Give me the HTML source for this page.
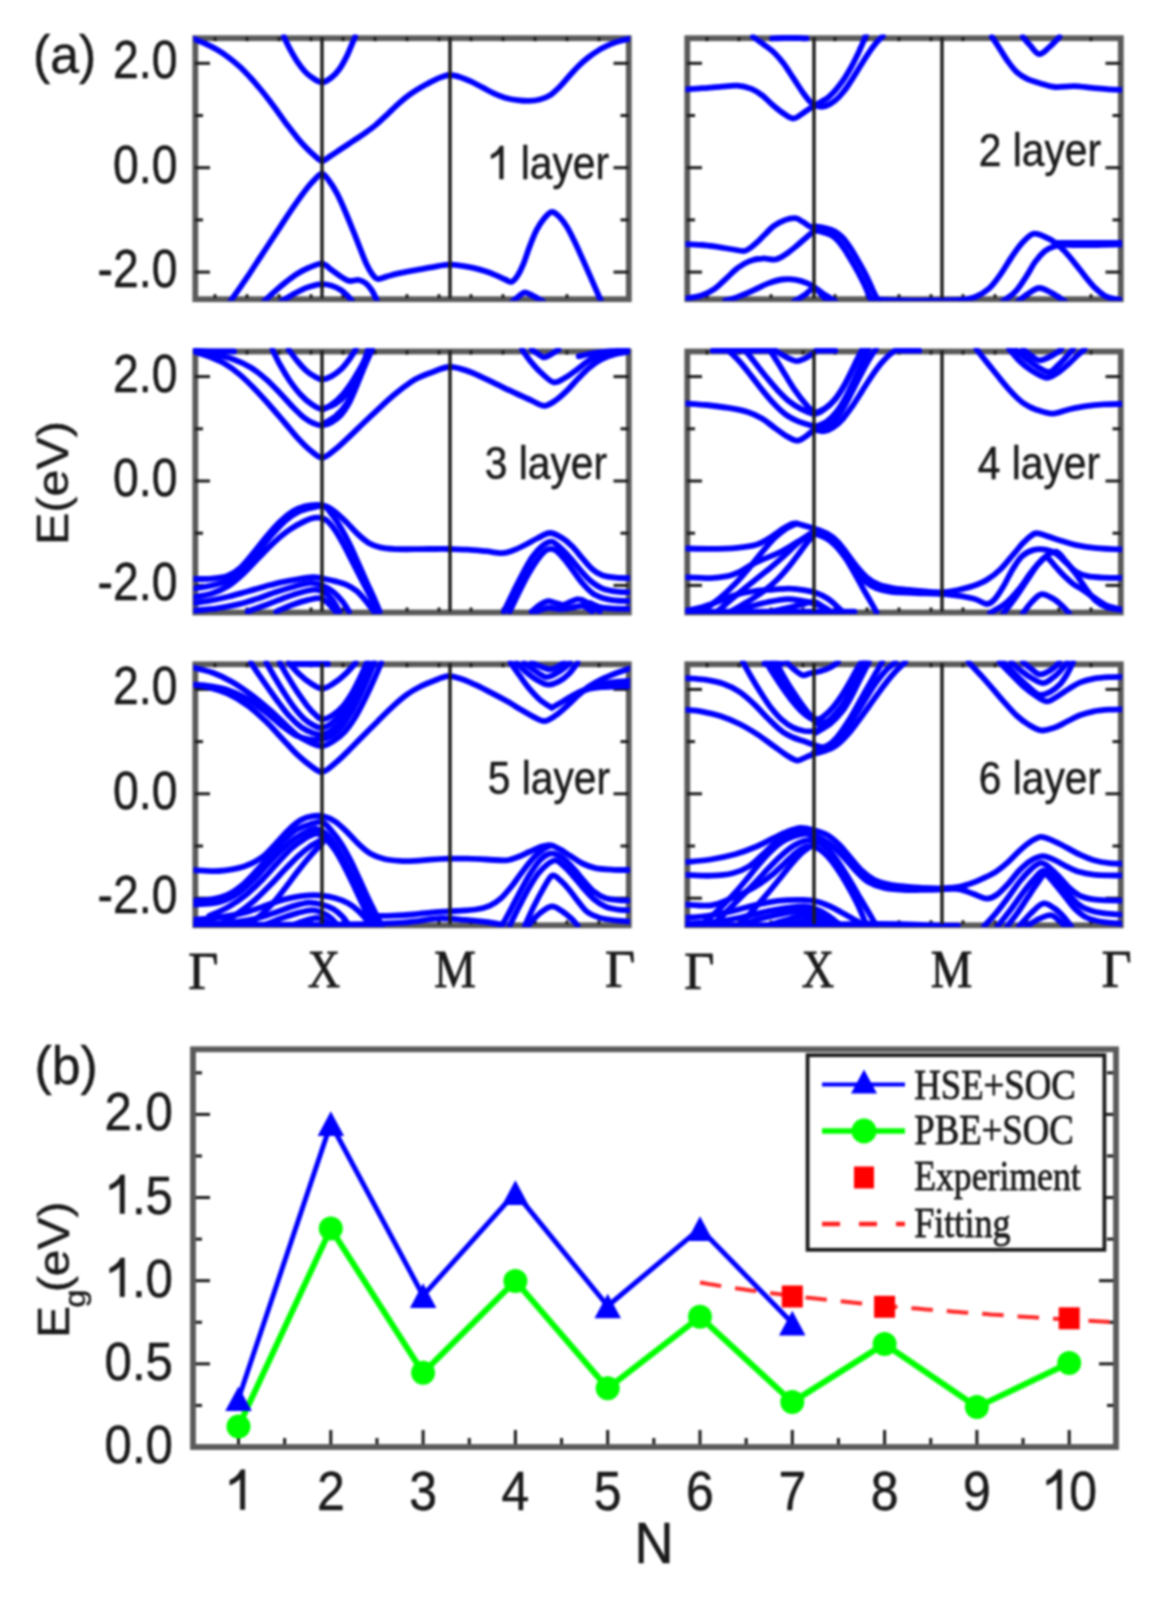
<!DOCTYPE html>
<html><head><meta charset="utf-8"><style>
html,body{margin:0;padding:0;background:#fff;}
svg{display:block;}
</style></head><body>
<svg width="1174" height="1599" viewBox="0 0 1174 1599">
<defs>
<clipPath id="cp00"><rect x="193.5" y="34.6" width="436.5" height="266.2"/></clipPath>
<clipPath id="cp01"><rect x="685.5" y="34.6" width="436.5" height="266.2"/></clipPath>
<clipPath id="cp10"><rect x="193.5" y="347.9" width="436.5" height="266.2"/></clipPath>
<clipPath id="cp11"><rect x="685.5" y="347.9" width="436.5" height="266.2"/></clipPath>
<clipPath id="cp20"><rect x="193.5" y="660.6999999999999" width="436.5" height="266.2"/></clipPath>
<clipPath id="cp21"><rect x="685.5" y="660.6999999999999" width="436.5" height="266.2"/></clipPath>
<filter id="bl" color-interpolation-filters="sRGB" x="-5%" y="-5%" width="110%" height="110%"><feGaussianBlur stdDeviation="1.2"/></filter>
</defs>
<g filter="url(#bl)">
<rect width="1174" height="1599" fill="#fff"/>
<rect x="195.3" y="38.2" width="433.5" height="261.0" fill="none" stroke="#5a5a5a" stroke-width="5.8"/>
<line x1="195.0" y1="63.29999999999998" x2="210.0" y2="63.29999999999998" stroke="#1a1a1a" stroke-width="3"/>
<line x1="628.5" y1="63.29999999999998" x2="613.5" y2="63.29999999999998" stroke="#1a1a1a" stroke-width="3"/>
<line x1="195.0" y1="115.49999999999999" x2="203.0" y2="115.49999999999999" stroke="#1a1a1a" stroke-width="3"/>
<line x1="628.5" y1="115.49999999999999" x2="620.5" y2="115.49999999999999" stroke="#1a1a1a" stroke-width="3"/>
<line x1="195.0" y1="167.7" x2="210.0" y2="167.7" stroke="#1a1a1a" stroke-width="3"/>
<line x1="628.5" y1="167.7" x2="613.5" y2="167.7" stroke="#1a1a1a" stroke-width="3"/>
<line x1="195.0" y1="219.89999999999998" x2="203.0" y2="219.89999999999998" stroke="#1a1a1a" stroke-width="3"/>
<line x1="628.5" y1="219.89999999999998" x2="620.5" y2="219.89999999999998" stroke="#1a1a1a" stroke-width="3"/>
<line x1="195.0" y1="272.1" x2="210.0" y2="272.1" stroke="#1a1a1a" stroke-width="3"/>
<line x1="628.5" y1="272.1" x2="613.5" y2="272.1" stroke="#1a1a1a" stroke-width="3"/>
<line x1="215.0" y1="37.2" x2="215.0" y2="41.2" stroke="#1a1a1a" stroke-width="3"/>
<line x1="215.0" y1="298.2" x2="215.0" y2="294.2" stroke="#1a1a1a" stroke-width="3"/>
<line x1="247.0" y1="37.2" x2="247.0" y2="41.2" stroke="#1a1a1a" stroke-width="3"/>
<line x1="247.0" y1="298.2" x2="247.0" y2="294.2" stroke="#1a1a1a" stroke-width="3"/>
<line x1="279.0" y1="37.2" x2="279.0" y2="41.2" stroke="#1a1a1a" stroke-width="3"/>
<line x1="279.0" y1="298.2" x2="279.0" y2="294.2" stroke="#1a1a1a" stroke-width="3"/>
<line x1="311.0" y1="37.2" x2="311.0" y2="41.2" stroke="#1a1a1a" stroke-width="3"/>
<line x1="311.0" y1="298.2" x2="311.0" y2="294.2" stroke="#1a1a1a" stroke-width="3"/>
<line x1="343.0" y1="37.2" x2="343.0" y2="41.2" stroke="#1a1a1a" stroke-width="3"/>
<line x1="343.0" y1="298.2" x2="343.0" y2="294.2" stroke="#1a1a1a" stroke-width="3"/>
<line x1="375.0" y1="37.2" x2="375.0" y2="41.2" stroke="#1a1a1a" stroke-width="3"/>
<line x1="375.0" y1="298.2" x2="375.0" y2="294.2" stroke="#1a1a1a" stroke-width="3"/>
<line x1="407.0" y1="37.2" x2="407.0" y2="41.2" stroke="#1a1a1a" stroke-width="3"/>
<line x1="407.0" y1="298.2" x2="407.0" y2="294.2" stroke="#1a1a1a" stroke-width="3"/>
<line x1="439.0" y1="37.2" x2="439.0" y2="41.2" stroke="#1a1a1a" stroke-width="3"/>
<line x1="439.0" y1="298.2" x2="439.0" y2="294.2" stroke="#1a1a1a" stroke-width="3"/>
<line x1="471.0" y1="37.2" x2="471.0" y2="41.2" stroke="#1a1a1a" stroke-width="3"/>
<line x1="471.0" y1="298.2" x2="471.0" y2="294.2" stroke="#1a1a1a" stroke-width="3"/>
<line x1="503.0" y1="37.2" x2="503.0" y2="41.2" stroke="#1a1a1a" stroke-width="3"/>
<line x1="503.0" y1="298.2" x2="503.0" y2="294.2" stroke="#1a1a1a" stroke-width="3"/>
<line x1="535.0" y1="37.2" x2="535.0" y2="41.2" stroke="#1a1a1a" stroke-width="3"/>
<line x1="535.0" y1="298.2" x2="535.0" y2="294.2" stroke="#1a1a1a" stroke-width="3"/>
<line x1="567.0" y1="37.2" x2="567.0" y2="41.2" stroke="#1a1a1a" stroke-width="3"/>
<line x1="567.0" y1="298.2" x2="567.0" y2="294.2" stroke="#1a1a1a" stroke-width="3"/>
<line x1="599.0" y1="37.2" x2="599.0" y2="41.2" stroke="#1a1a1a" stroke-width="3"/>
<line x1="599.0" y1="298.2" x2="599.0" y2="294.2" stroke="#1a1a1a" stroke-width="3"/>
<g clip-path="url(#cp00)" fill="none" stroke="#0000ff" stroke-width="5.8" stroke-linecap="round" stroke-linejoin="round">
<path d="M193.4,38.6 C195.4,39.5 201.3,41.8 205.2,43.7 C209.1,45.5 213.0,47.4 216.8,49.6 C220.7,51.9 224.6,54.5 228.3,57.3 C232.1,60.1 235.8,63.2 239.4,66.4 C242.9,69.6 246.1,73.0 249.4,76.5 C252.7,80.0 255.8,83.7 259.0,87.5 C262.2,91.3 265.4,95.3 268.6,99.5 C271.8,103.6 275.0,108.1 278.2,112.4 C281.4,116.8 284.5,121.4 287.7,125.6 C290.9,129.8 294.2,134.1 297.3,137.8 C300.4,141.6 303.6,145.1 306.4,148.1 C309.3,151.1 311.9,153.5 314.6,155.7 C317.2,157.8 319.5,160.9 322.2,160.9 C325.0,160.9 327.7,157.7 330.9,155.7 C334.1,153.7 337.7,151.2 341.4,148.8 C345.1,146.4 349.1,143.7 352.9,141.2 C356.7,138.6 360.6,136.2 364.4,133.5 C368.2,130.8 372.1,128.1 375.9,124.9 C379.7,121.7 383.6,117.9 387.4,114.3 C391.2,110.7 395.1,106.7 398.9,103.3 C402.7,100.0 406.5,96.9 410.3,94.2 C414.1,91.5 417.8,89.3 421.6,87.1 C425.4,84.9 429.4,82.6 433.0,80.9 C436.6,79.1 440.2,77.6 443.1,76.6 C445.9,75.6 447.4,74.9 450.2,75.0 C453.1,75.1 456.8,76.1 460.3,77.2 C463.8,78.3 467.6,80.0 471.3,81.7 C475.1,83.5 479.0,85.8 482.8,87.7 C486.7,89.7 490.5,91.9 494.3,93.6 C498.2,95.3 502.0,96.9 505.8,98.0 C509.7,99.1 513.5,99.7 517.3,100.1 C521.2,100.6 525.1,101.0 528.8,100.9 C532.6,100.8 536.3,100.4 539.8,99.5 C543.4,98.6 546.6,97.5 549.9,95.4 C553.2,93.3 556.3,90.2 559.5,87.0 C562.7,83.8 565.9,79.7 569.1,76.2 C572.3,72.7 575.4,69.1 578.7,65.9 C581.9,62.7 585.2,59.8 588.7,57.1 C592.2,54.4 596.1,51.8 599.7,49.6 C603.4,47.5 607.2,45.6 610.8,44.1 C614.3,42.7 617.5,41.7 620.8,40.8 C624.1,39.9 628.8,39.0 630.4,38.6"/>
<path d="M283.9,36.7 C284.9,38.8 287.9,45.3 290.1,49.4 C292.4,53.6 294.8,57.9 297.3,61.6 C299.8,65.3 302.4,68.8 305.0,71.6 C307.6,74.4 310.3,76.6 313.1,78.3 C316.0,80.1 319.2,82.4 322.2,82.3 C325.3,82.2 328.5,79.8 331.3,77.6 C334.2,75.4 336.9,72.6 339.5,69.0 C342.0,65.5 344.6,60.5 346.7,56.4 C348.8,52.2 350.6,47.4 352.0,44.1 C353.5,40.9 354.7,37.9 355.2,36.7"/>
<path d="M230.2,301.5 C231.8,299.2 236.6,292.4 239.8,287.8 C243.0,283.1 246.2,278.5 249.4,273.8 C252.6,269.0 255.8,264.0 259.0,259.1 C262.2,254.3 265.4,249.4 268.6,244.5 C271.8,239.7 275.0,234.8 278.2,229.9 C281.4,225.1 284.5,220.1 287.7,215.3 C290.9,210.6 294.2,205.8 297.3,201.4 C300.4,197.0 303.6,192.6 306.4,189.0 C309.3,185.3 311.9,182.2 314.6,179.6 C317.2,177.1 319.7,173.2 322.2,173.6 C324.8,174.0 327.4,178.5 329.9,182.0 C332.5,185.5 335.0,189.8 337.6,194.7 C340.1,199.6 342.7,205.6 345.2,211.5 C347.8,217.4 350.4,224.0 352.9,230.2 C355.4,236.3 357.9,242.8 360.1,248.4 C362.3,254.0 364.3,259.4 366.3,263.7 C368.3,268.0 370.2,271.4 372.1,274.0 C374.0,276.6 375.4,278.6 377.8,279.0 C380.2,279.5 383.2,277.5 386.4,276.6 C389.7,275.7 393.6,274.5 397.5,273.6 C401.4,272.7 405.8,271.8 409.8,271.1 C413.8,270.3 417.6,269.8 421.6,269.1 C425.6,268.4 429.5,267.6 434.0,266.8 C438.4,266.1 443.9,264.9 448.3,264.7 C452.7,264.5 456.2,265.0 460.3,265.6 C464.5,266.1 468.9,266.9 473.2,267.9 C477.6,268.9 482.2,270.3 486.2,271.6 C490.2,272.9 494.0,274.6 497.2,275.9 C500.4,277.2 503.0,278.5 505.3,279.5 C507.7,280.5 509.6,282.5 511.6,281.9 C513.6,281.3 515.4,279.0 517.3,276.2 C519.2,273.3 521.1,269.5 523.1,264.7 C525.1,259.9 527.1,253.2 529.3,247.4 C531.5,241.7 534.0,235.0 536.5,230.2 C539.0,225.3 541.6,221.5 544.2,218.4 C546.7,215.4 549.3,212.2 551.8,212.0 C554.4,211.7 556.9,214.4 559.5,217.0 C562.0,219.5 564.6,223.1 567.2,227.3 C569.7,231.5 572.3,236.9 574.8,242.1 C577.4,247.4 580.0,253.4 582.5,258.9 C585.0,264.4 587.5,270.2 589.7,275.2 C591.9,280.2 593.9,284.8 595.8,289.2 C597.7,293.6 600.4,299.4 601.3,301.5"/>
<path d="M263.8,301.5 C265.6,299.8 270.9,294.8 274.6,291.6 C278.2,288.4 282.0,285.1 285.8,282.1 C289.6,279.2 293.4,276.2 297.3,273.8 C301.2,271.3 305.2,269.2 309.3,267.5 C313.5,265.9 318.5,263.3 322.2,263.7 C326.0,264.1 328.7,268.0 331.8,270.2 C334.9,272.3 338.1,274.8 340.9,276.6 C343.8,278.4 346.1,280.4 349.1,280.9 C352.0,281.5 355.9,279.6 358.7,280.0 C361.4,280.4 363.6,281.6 365.8,283.3 C368.1,285.1 370.0,287.6 372.0,290.6 C373.9,293.6 376.5,299.7 377.4,301.5"/>
<path d="M281.0,301.5 C282.8,300.5 288.0,297.3 291.3,295.4 C294.7,293.5 297.8,291.6 301.2,290.1 C304.5,288.5 307.7,287.3 311.2,286.3 C314.7,285.3 318.8,284.3 322.2,284.2 C325.7,284.1 328.8,284.9 331.8,285.8 C334.9,286.8 337.9,288.2 340.4,289.8 C343.0,291.4 345.0,293.5 347.1,295.4 C349.1,297.4 351.6,300.5 352.5,301.5"/>
<path d="M512.5,301.5 C513.6,300.6 516.9,297.6 519.0,296.1 C521.1,294.6 522.6,292.4 525.0,292.4 C527.4,292.4 530.3,294.6 533.4,296.1 C536.4,297.6 541.6,300.6 543.2,301.5"/>
</g>
<line x1="322.0" y1="37.2" x2="322.0" y2="298.2" stroke="#1a1a1a" stroke-width="3.4"/>
<line x1="450.0" y1="37.2" x2="450.0" y2="298.2" stroke="#1a1a1a" stroke-width="3.4"/>
<rect x="687.3" y="38.2" width="433.5" height="261.0" fill="none" stroke="#5a5a5a" stroke-width="5.8"/>
<line x1="687.0" y1="63.29999999999998" x2="702.0" y2="63.29999999999998" stroke="#1a1a1a" stroke-width="3"/>
<line x1="1120.5" y1="63.29999999999998" x2="1105.5" y2="63.29999999999998" stroke="#1a1a1a" stroke-width="3"/>
<line x1="687.0" y1="115.49999999999999" x2="695.0" y2="115.49999999999999" stroke="#1a1a1a" stroke-width="3"/>
<line x1="1120.5" y1="115.49999999999999" x2="1112.5" y2="115.49999999999999" stroke="#1a1a1a" stroke-width="3"/>
<line x1="687.0" y1="167.7" x2="702.0" y2="167.7" stroke="#1a1a1a" stroke-width="3"/>
<line x1="1120.5" y1="167.7" x2="1105.5" y2="167.7" stroke="#1a1a1a" stroke-width="3"/>
<line x1="687.0" y1="219.89999999999998" x2="695.0" y2="219.89999999999998" stroke="#1a1a1a" stroke-width="3"/>
<line x1="1120.5" y1="219.89999999999998" x2="1112.5" y2="219.89999999999998" stroke="#1a1a1a" stroke-width="3"/>
<line x1="687.0" y1="272.1" x2="702.0" y2="272.1" stroke="#1a1a1a" stroke-width="3"/>
<line x1="1120.5" y1="272.1" x2="1105.5" y2="272.1" stroke="#1a1a1a" stroke-width="3"/>
<line x1="707.0" y1="37.2" x2="707.0" y2="41.2" stroke="#1a1a1a" stroke-width="3"/>
<line x1="707.0" y1="298.2" x2="707.0" y2="294.2" stroke="#1a1a1a" stroke-width="3"/>
<line x1="739.0" y1="37.2" x2="739.0" y2="41.2" stroke="#1a1a1a" stroke-width="3"/>
<line x1="739.0" y1="298.2" x2="739.0" y2="294.2" stroke="#1a1a1a" stroke-width="3"/>
<line x1="771.0" y1="37.2" x2="771.0" y2="41.2" stroke="#1a1a1a" stroke-width="3"/>
<line x1="771.0" y1="298.2" x2="771.0" y2="294.2" stroke="#1a1a1a" stroke-width="3"/>
<line x1="803.0" y1="37.2" x2="803.0" y2="41.2" stroke="#1a1a1a" stroke-width="3"/>
<line x1="803.0" y1="298.2" x2="803.0" y2="294.2" stroke="#1a1a1a" stroke-width="3"/>
<line x1="835.0" y1="37.2" x2="835.0" y2="41.2" stroke="#1a1a1a" stroke-width="3"/>
<line x1="835.0" y1="298.2" x2="835.0" y2="294.2" stroke="#1a1a1a" stroke-width="3"/>
<line x1="867.0" y1="37.2" x2="867.0" y2="41.2" stroke="#1a1a1a" stroke-width="3"/>
<line x1="867.0" y1="298.2" x2="867.0" y2="294.2" stroke="#1a1a1a" stroke-width="3"/>
<line x1="899.0" y1="37.2" x2="899.0" y2="41.2" stroke="#1a1a1a" stroke-width="3"/>
<line x1="899.0" y1="298.2" x2="899.0" y2="294.2" stroke="#1a1a1a" stroke-width="3"/>
<line x1="931.0" y1="37.2" x2="931.0" y2="41.2" stroke="#1a1a1a" stroke-width="3"/>
<line x1="931.0" y1="298.2" x2="931.0" y2="294.2" stroke="#1a1a1a" stroke-width="3"/>
<line x1="963.0" y1="37.2" x2="963.0" y2="41.2" stroke="#1a1a1a" stroke-width="3"/>
<line x1="963.0" y1="298.2" x2="963.0" y2="294.2" stroke="#1a1a1a" stroke-width="3"/>
<line x1="995.0" y1="37.2" x2="995.0" y2="41.2" stroke="#1a1a1a" stroke-width="3"/>
<line x1="995.0" y1="298.2" x2="995.0" y2="294.2" stroke="#1a1a1a" stroke-width="3"/>
<line x1="1027.0" y1="37.2" x2="1027.0" y2="41.2" stroke="#1a1a1a" stroke-width="3"/>
<line x1="1027.0" y1="298.2" x2="1027.0" y2="294.2" stroke="#1a1a1a" stroke-width="3"/>
<line x1="1059.0" y1="37.2" x2="1059.0" y2="41.2" stroke="#1a1a1a" stroke-width="3"/>
<line x1="1059.0" y1="298.2" x2="1059.0" y2="294.2" stroke="#1a1a1a" stroke-width="3"/>
<line x1="1091.0" y1="37.2" x2="1091.0" y2="41.2" stroke="#1a1a1a" stroke-width="3"/>
<line x1="1091.0" y1="298.2" x2="1091.0" y2="294.2" stroke="#1a1a1a" stroke-width="3"/>
<g clip-path="url(#cp01)" fill="none" stroke="#0000ff" stroke-width="5.8" stroke-linecap="round" stroke-linejoin="round">
<path d="M685.8,89.4 C688.5,89.2 696.5,88.7 702.1,88.2 C707.8,87.8 713.9,87.2 719.9,86.8 C725.8,86.3 732.3,85.2 737.6,85.6 C742.8,85.9 747.3,87.3 751.5,88.9 C755.6,90.6 759.1,93.0 762.5,95.6 C765.9,98.2 768.8,101.7 772.1,104.5 C775.4,107.3 778.6,110.2 782.1,112.5 C785.7,114.8 789.6,118.5 793.2,118.5 C796.7,118.6 799.9,115.1 803.3,113.0 C806.6,111.0 810.2,108.2 813.2,106.3 C816.3,104.5 818.9,103.2 821.3,101.8 C823.7,100.3 825.8,99.4 827.9,97.7 C830.0,96.0 832.1,93.9 834.1,91.8 C836.1,89.6 838.0,87.1 839.8,84.7 C841.7,82.3 843.4,79.9 845.1,77.3 C846.8,74.7 848.5,72.0 850.0,69.2 C851.6,66.4 853.1,63.5 854.5,60.7 C855.9,57.9 857.3,55.1 858.6,52.4 C859.9,49.6 861.0,46.9 862.3,44.1 C863.5,41.2 865.4,36.6 866.0,35.1"/>
<path d="M752.9,36.7 C754.7,38.0 760.4,42.0 763.9,44.6 C767.4,47.2 770.7,49.4 774.0,52.5 C777.3,55.7 780.4,59.3 783.6,63.5 C786.8,67.8 790.0,73.1 793.2,77.9 C796.4,82.7 799.9,88.2 802.7,92.3 C805.6,96.3 808.2,99.9 810.5,102.1 C812.7,104.4 814.0,105.0 816.1,105.8 C818.2,106.5 820.7,106.9 823.0,106.7 C825.3,106.4 827.6,105.3 829.8,104.1 C832.0,102.9 834.3,101.3 836.4,99.4 C838.5,97.6 840.5,95.3 842.4,93.0 C844.3,90.8 846.0,88.5 847.7,86.0 C849.4,83.6 851.1,81.0 852.8,78.3 C854.5,75.7 856.2,72.8 857.9,70.0 C859.6,67.3 861.3,64.4 863.0,61.7 C864.7,59.0 866.4,56.4 868.1,53.9 C869.8,51.3 871.6,48.8 873.3,46.6 C874.9,44.4 876.6,42.4 878.3,40.6 C879.9,38.9 882.3,36.7 883.0,36.0"/>
<path d="M772.1,38.4 C773.9,38.4 779.2,38.1 783.1,38.0 C787.0,37.9 791.6,37.9 795.6,38.0 C799.5,38.1 804.7,38.4 806.6,38.4"/>
<path d="M991.8,36.8 C993.3,38.9 997.6,45.4 1000.3,49.6 C1003.0,53.8 1005.6,58.2 1008.3,61.9 C1011.0,65.6 1013.4,69.0 1016.5,71.8 C1019.6,74.6 1022.8,76.7 1026.6,78.6 C1030.5,80.5 1035.0,81.8 1039.7,83.2 C1044.4,84.6 1049.0,86.6 1054.7,87.0 C1060.4,87.5 1067.7,85.9 1074.0,86.1 C1080.3,86.2 1086.6,87.4 1092.4,87.9 C1098.2,88.4 1103.5,88.9 1108.8,89.3 C1114.1,89.6 1121.7,89.8 1124.3,89.9"/>
<path d="M1022.8,36.8 C1024.0,38.2 1027.5,42.6 1030.3,45.5 C1033.0,48.4 1036.1,53.8 1039.2,54.2 C1042.4,54.5 1045.7,50.3 1049.1,47.4 C1052.5,44.5 1057.8,38.5 1059.5,36.8"/>
<path d="M684.9,244.1 C687.7,244.2 696.2,244.5 701.9,245.0 C707.6,245.5 713.7,246.4 718.9,247.1 C724.1,247.9 728.9,248.9 733.3,249.5 C737.7,250.1 741.7,251.7 745.2,250.8 C748.8,249.9 751.6,247.0 754.8,244.3 C758.0,241.7 761.2,238.1 764.4,235.0 C767.6,231.9 770.7,228.3 774.0,225.9 C777.3,223.4 780.5,221.6 784.1,220.4 C787.6,219.1 792.0,218.0 795.1,218.2 C798.2,218.4 800.2,220.4 802.7,221.8 C805.3,223.2 808.4,226.0 810.4,226.8 C812.5,227.6 812.6,226.3 815.0,226.5 C817.4,226.7 821.9,227.2 825.1,228.0 C828.3,228.8 831.4,229.7 834.2,231.1 C837.0,232.6 839.6,234.6 842.0,236.8 C844.3,239.1 846.2,241.9 848.2,244.7 C850.2,247.4 851.9,250.4 853.7,253.3 C855.5,256.3 857.3,259.4 859.0,262.4 C860.7,265.4 862.4,268.4 864.0,271.4 C865.6,274.4 867.1,277.4 868.5,280.4 C870.0,283.5 871.3,286.8 872.6,289.6 C873.9,292.4 875.1,295.1 876.3,297.2 C877.5,299.3 879.4,301.2 880.0,302.0"/>
<path d="M684.9,298.7 C687.6,298.2 696.5,297.2 701.4,295.6 C706.4,293.9 710.5,291.7 714.6,288.9 C718.7,286.0 722.2,282.1 726.1,278.6 C729.9,275.1 733.7,271.0 737.6,268.0 C741.5,265.1 745.4,262.7 749.6,261.1 C753.7,259.5 758.1,258.7 762.5,258.5 C766.9,258.2 772.0,260.1 775.9,259.4 C779.8,258.7 782.5,256.4 786.0,254.1 C789.4,251.9 793.1,248.8 796.5,246.0 C799.9,243.2 803.2,240.0 806.3,237.5 C809.4,235.0 811.9,231.8 815.0,231.0 C818.1,230.2 821.7,232.0 824.6,232.8 C827.5,233.5 830.0,234.4 832.3,235.7 C834.5,237.1 836.3,238.9 838.2,240.9 C840.1,242.9 841.8,245.4 843.6,248.0 C845.3,250.6 847.1,253.5 848.9,256.4 C850.7,259.2 852.5,262.4 854.2,265.4 C855.9,268.4 857.6,271.4 859.2,274.4 C860.8,277.4 862.3,280.4 863.8,283.4 C865.2,286.5 866.6,289.6 867.8,292.6 C869.1,295.6 870.8,300.0 871.4,301.5"/>
<path d="M725.1,300.6 C727.6,299.9 734.9,297.9 739.7,296.1 C744.6,294.3 749.6,292.0 754.3,289.8 C759.1,287.7 763.6,285.1 768.2,283.4 C772.9,281.7 777.5,280.1 782.1,279.5 C786.8,278.9 791.8,279.1 796.0,279.8 C800.3,280.4 804.1,281.9 807.5,283.4 C811.0,284.9 813.6,286.9 816.6,288.9 C819.7,290.9 822.6,293.2 825.7,295.3 C828.9,297.3 833.7,300.2 835.3,301.2"/>
<path d="M794.1,301.2 C795.8,300.2 801.1,297.4 804.4,295.2 C807.8,292.9 811.5,287.9 814.2,287.8 C817.0,287.6 818.7,292.0 820.9,294.2 C823.2,296.4 826.5,300.0 827.7,301.2"/>
<path d="M959.9,300.5 C962.6,299.9 971.1,298.7 975.9,296.7 C980.7,294.7 984.8,292.4 988.9,288.7 C993.1,285.0 996.8,279.7 1000.5,274.4 C1004.3,269.2 1008.0,262.3 1011.7,257.0 C1015.3,251.8 1018.7,246.6 1022.3,242.8 C1025.9,238.9 1029.7,234.8 1033.4,233.8 C1037.1,232.8 1041.0,235.3 1044.5,236.7 C1048.1,238.1 1051.4,239.9 1054.7,242.3 C1058.0,244.7 1061.0,247.6 1064.4,251.0 C1067.7,254.4 1071.0,258.6 1074.5,262.8 C1078.0,267.1 1081.7,272.1 1085.1,276.4 C1088.6,280.6 1092.0,285.0 1095.3,288.2 C1098.6,291.5 1101.6,294.1 1105.0,296.0 C1108.3,297.8 1111.7,298.5 1115.6,299.2 C1119.5,299.9 1126.1,300.0 1128.2,300.2"/>
<path d="M1002.5,301.5 C1004.6,299.9 1011.2,296.1 1015.0,292.1 C1018.9,288.1 1022.3,282.4 1025.7,277.3 C1029.1,272.3 1032.1,266.0 1035.3,261.6 C1038.6,257.2 1041.8,253.6 1045.0,251.0 C1048.2,248.4 1051.5,247.3 1054.7,246.3 C1057.9,245.2 1059.5,245.0 1064.4,244.9 C1069.2,244.7 1077.0,245.3 1083.7,245.2 C1090.4,245.2 1097.1,245.0 1104.5,244.8 C1111.9,244.6 1124.2,244.2 1128.2,244.1"/>
<path d="M1054.7,242.9 C1058.3,242.9 1068.5,242.9 1076.4,242.9 C1084.3,242.9 1093.4,242.9 1102.1,242.9 C1110.7,242.9 1123.8,242.9 1128.2,242.9"/>
<path d="M1017.9,301.5 C1019.6,300.2 1024.6,296.0 1028.1,293.8 C1031.6,291.5 1035.3,288.1 1039.2,288.0 C1043.1,287.8 1047.2,290.6 1051.5,292.8 C1055.9,295.1 1063.0,300.1 1065.3,301.5"/>
<path d="M872.0,299.5 C875.5,299.6 885.0,300.1 893.0,300.3 C901.0,300.5 911.1,300.8 920.0,300.8 C928.9,300.8 938.8,300.6 946.2,300.4 C953.8,300.3 961.9,300.1 965.0,300.0"/>
</g>
<line x1="814.0" y1="37.2" x2="814.0" y2="298.2" stroke="#1a1a1a" stroke-width="3.4"/>
<line x1="942.0" y1="37.2" x2="942.0" y2="298.2" stroke="#1a1a1a" stroke-width="3.4"/>
<rect x="195.3" y="351.5" width="433.5" height="261.0" fill="none" stroke="#5a5a5a" stroke-width="5.8"/>
<line x1="195.0" y1="376.6" x2="210.0" y2="376.6" stroke="#1a1a1a" stroke-width="3"/>
<line x1="628.5" y1="376.6" x2="613.5" y2="376.6" stroke="#1a1a1a" stroke-width="3"/>
<line x1="195.0" y1="428.8" x2="203.0" y2="428.8" stroke="#1a1a1a" stroke-width="3"/>
<line x1="628.5" y1="428.8" x2="620.5" y2="428.8" stroke="#1a1a1a" stroke-width="3"/>
<line x1="195.0" y1="481.0" x2="210.0" y2="481.0" stroke="#1a1a1a" stroke-width="3"/>
<line x1="628.5" y1="481.0" x2="613.5" y2="481.0" stroke="#1a1a1a" stroke-width="3"/>
<line x1="195.0" y1="533.2" x2="203.0" y2="533.2" stroke="#1a1a1a" stroke-width="3"/>
<line x1="628.5" y1="533.2" x2="620.5" y2="533.2" stroke="#1a1a1a" stroke-width="3"/>
<line x1="195.0" y1="585.4" x2="210.0" y2="585.4" stroke="#1a1a1a" stroke-width="3"/>
<line x1="628.5" y1="585.4" x2="613.5" y2="585.4" stroke="#1a1a1a" stroke-width="3"/>
<line x1="215.0" y1="350.5" x2="215.0" y2="354.5" stroke="#1a1a1a" stroke-width="3"/>
<line x1="215.0" y1="611.5" x2="215.0" y2="607.5" stroke="#1a1a1a" stroke-width="3"/>
<line x1="247.0" y1="350.5" x2="247.0" y2="354.5" stroke="#1a1a1a" stroke-width="3"/>
<line x1="247.0" y1="611.5" x2="247.0" y2="607.5" stroke="#1a1a1a" stroke-width="3"/>
<line x1="279.0" y1="350.5" x2="279.0" y2="354.5" stroke="#1a1a1a" stroke-width="3"/>
<line x1="279.0" y1="611.5" x2="279.0" y2="607.5" stroke="#1a1a1a" stroke-width="3"/>
<line x1="311.0" y1="350.5" x2="311.0" y2="354.5" stroke="#1a1a1a" stroke-width="3"/>
<line x1="311.0" y1="611.5" x2="311.0" y2="607.5" stroke="#1a1a1a" stroke-width="3"/>
<line x1="343.0" y1="350.5" x2="343.0" y2="354.5" stroke="#1a1a1a" stroke-width="3"/>
<line x1="343.0" y1="611.5" x2="343.0" y2="607.5" stroke="#1a1a1a" stroke-width="3"/>
<line x1="375.0" y1="350.5" x2="375.0" y2="354.5" stroke="#1a1a1a" stroke-width="3"/>
<line x1="375.0" y1="611.5" x2="375.0" y2="607.5" stroke="#1a1a1a" stroke-width="3"/>
<line x1="407.0" y1="350.5" x2="407.0" y2="354.5" stroke="#1a1a1a" stroke-width="3"/>
<line x1="407.0" y1="611.5" x2="407.0" y2="607.5" stroke="#1a1a1a" stroke-width="3"/>
<line x1="439.0" y1="350.5" x2="439.0" y2="354.5" stroke="#1a1a1a" stroke-width="3"/>
<line x1="439.0" y1="611.5" x2="439.0" y2="607.5" stroke="#1a1a1a" stroke-width="3"/>
<line x1="471.0" y1="350.5" x2="471.0" y2="354.5" stroke="#1a1a1a" stroke-width="3"/>
<line x1="471.0" y1="611.5" x2="471.0" y2="607.5" stroke="#1a1a1a" stroke-width="3"/>
<line x1="503.0" y1="350.5" x2="503.0" y2="354.5" stroke="#1a1a1a" stroke-width="3"/>
<line x1="503.0" y1="611.5" x2="503.0" y2="607.5" stroke="#1a1a1a" stroke-width="3"/>
<line x1="535.0" y1="350.5" x2="535.0" y2="354.5" stroke="#1a1a1a" stroke-width="3"/>
<line x1="535.0" y1="611.5" x2="535.0" y2="607.5" stroke="#1a1a1a" stroke-width="3"/>
<line x1="567.0" y1="350.5" x2="567.0" y2="354.5" stroke="#1a1a1a" stroke-width="3"/>
<line x1="567.0" y1="611.5" x2="567.0" y2="607.5" stroke="#1a1a1a" stroke-width="3"/>
<line x1="599.0" y1="350.5" x2="599.0" y2="354.5" stroke="#1a1a1a" stroke-width="3"/>
<line x1="599.0" y1="611.5" x2="599.0" y2="607.5" stroke="#1a1a1a" stroke-width="3"/>
<g clip-path="url(#cp10)" fill="none" stroke="#0000ff" stroke-width="5.8" stroke-linecap="round" stroke-linejoin="round">
<path d="M192.9,351.0 C195.5,352.0 203.7,354.4 208.9,356.5 C214.2,358.6 219.3,360.6 224.5,363.6 C229.6,366.6 234.7,370.3 239.8,374.6 C244.9,378.9 250.1,384.2 255.2,389.5 C260.3,394.7 265.5,400.6 270.5,406.2 C275.5,411.9 280.6,418.0 285.3,423.5 C290.1,429.0 294.5,434.8 298.8,439.3 C303.0,443.8 306.8,447.7 310.7,450.7 C314.7,453.8 318.3,457.7 322.2,457.6 C326.2,457.5 330.0,453.4 334.2,450.2 C338.5,447.0 342.9,442.7 347.6,438.3 C352.3,434.0 357.5,428.8 362.5,424.0 C367.5,419.2 372.4,414.6 377.8,409.6 C383.2,404.6 389.2,398.9 394.8,394.3 C400.3,389.6 406.5,384.9 411.2,381.8 C415.8,378.7 419.0,377.5 422.7,375.8 C426.5,374.1 429.7,373.0 434.0,371.5 C438.2,370.0 444.0,367.4 448.3,367.0 C452.6,366.5 455.8,367.7 459.8,368.6 C463.8,369.6 467.8,370.9 472.3,372.7 C476.8,374.5 481.7,377.1 486.7,379.4 C491.6,381.8 496.9,384.4 502.0,386.8 C507.1,389.3 512.4,391.7 517.3,394.0 C522.3,396.3 527.2,398.7 531.7,400.6 C536.2,402.6 540.2,405.9 544.2,405.9 C548.1,405.8 551.8,403.0 555.7,400.4 C559.5,397.8 563.3,394.2 567.2,390.4 C571.0,386.7 574.8,381.9 578.7,378.0 C582.5,374.1 586.3,370.1 590.2,367.0 C594.0,363.8 597.5,361.2 601.7,359.1 C605.8,356.9 610.0,355.4 615.1,354.1 C620.2,352.8 629.4,351.6 632.3,351.0"/>
<path d="M192.9,351.0 C196.3,351.6 206.5,353.0 213.2,354.4 C219.9,355.8 226.9,357.0 233.1,359.2 C239.4,361.4 245.3,364.1 250.8,367.4 C256.4,370.8 261.3,375.1 266.2,379.4 C271.1,383.7 275.6,388.7 280.1,393.3 C284.5,397.9 288.9,403.1 293.0,407.2 C297.1,411.3 301.0,415.3 304.5,418.0 C308.0,420.7 311.1,422.3 314.1,423.5 C317.0,424.7 319.3,425.7 322.2,425.4 C325.2,425.2 328.7,423.8 331.8,422.1 C334.9,420.3 338.1,417.9 340.9,414.9 C343.7,411.8 346.3,407.9 348.6,403.8 C350.9,399.8 352.8,395.1 354.8,390.4 C356.8,385.8 358.7,380.7 360.6,376.1 C362.5,371.4 364.4,366.8 366.3,362.4 C368.2,358.0 371.1,351.8 372.1,349.7"/>
<path d="M192.9,350.7 C196.2,350.8 206.1,351.3 213.0,351.4 C219.9,351.6 230.6,351.4 234.1,351.4"/>
<path d="M272.4,349.7 C273.8,352.4 277.6,360.5 280.6,365.8 C283.5,371.0 286.7,376.4 290.1,381.3 C293.6,386.2 297.5,391.4 301.2,395.2 C304.8,399.1 308.7,402.3 312.2,404.6 C315.7,406.9 318.9,409.2 322.2,409.1 C325.6,409.0 328.9,406.6 332.3,404.1 C335.7,401.6 339.5,398.1 342.8,394.3 C346.2,390.5 349.6,385.6 352.4,381.3 C355.3,377.0 357.8,372.3 360.1,368.4 C362.4,364.4 364.2,360.7 366.1,357.6 C367.9,354.5 370.3,351.0 371.1,349.7"/>
<path d="M324.2,423.5 C326.2,422.1 332.9,418.7 336.6,415.3 C340.4,412.0 343.7,408.1 346.7,403.6 C349.7,399.1 352.1,394.0 354.6,388.5 C357.1,383.0 359.3,377.0 361.5,370.6 C363.8,364.1 367.1,353.2 368.2,349.7"/>
<path d="M322.2,409.1 C324.4,408.3 331.1,406.6 335.2,404.1 C339.2,401.5 343.2,397.9 346.7,393.8 C350.1,389.7 353.3,384.3 356.0,379.4 C358.7,374.5 360.9,369.3 363.0,364.3 C365.0,359.4 367.4,352.1 368.2,349.7"/>
<path d="M288.7,349.7 C290.2,351.7 294.6,357.9 297.6,361.4 C300.5,365.0 303.6,368.3 306.4,370.8 C309.3,373.3 311.9,375.1 314.6,376.5 C317.2,378.0 319.4,379.5 322.2,379.4 C325.1,379.3 328.7,377.7 331.8,376.1 C334.9,374.4 338.1,372.0 340.9,369.4 C343.8,366.7 346.4,363.3 348.8,360.0 C351.3,356.7 354.6,351.4 355.8,349.7"/>
<path d="M522.1,349.7 C523.6,351.7 527.8,358.1 531.0,361.9 C534.2,365.8 537.5,369.6 541.3,372.9 C545.1,376.3 549.7,381.5 553.7,382.3 C557.7,383.1 561.4,379.8 565.2,377.7 C569.1,375.7 572.9,372.6 576.7,369.8 C580.6,367.0 584.3,363.5 588.2,361.0 C592.1,358.5 595.8,356.3 600.2,354.7 C604.6,353.2 609.2,352.5 614.6,351.9 C619.9,351.2 629.4,350.9 632.3,350.7"/>
<path d="M531.7,349.7 C532.8,350.4 536.1,352.7 538.2,354.0 C540.2,355.3 541.9,357.4 544.2,357.4 C546.4,357.4 549.2,355.3 551.6,354.0 C554.0,352.7 557.4,350.4 558.5,349.7"/>
<path d="M578.7,356.4 C581.1,355.9 588.0,354.0 593.5,353.2 C599.0,352.3 605.2,351.7 611.7,351.2 C618.2,350.8 628.9,350.4 632.3,350.3"/>
<path d="M192.9,579.0 C196.0,579.0 206.1,579.1 211.8,578.6 C217.6,578.0 222.6,577.7 227.4,575.9 C232.1,574.1 236.0,571.6 240.3,567.8 C244.6,564.0 248.9,558.4 253.2,553.2 C257.6,547.9 262.2,541.7 266.7,536.4 C271.1,531.1 275.7,525.7 280.1,521.5 C284.5,517.3 288.9,513.8 293.0,511.2 C297.2,508.7 301.2,507.5 305.0,506.4 C308.7,505.4 312.2,504.8 315.5,504.8 C318.9,504.7 321.8,504.7 325.1,506.0 C328.5,507.2 332.0,509.4 335.7,512.2 C339.3,515.0 343.4,519.3 347.2,523.0 C350.9,526.7 354.6,531.2 358.2,534.5 C361.8,537.8 365.0,540.7 368.7,542.9 C372.4,545.0 375.8,546.4 380.2,547.4 C384.6,548.5 389.8,548.8 395.3,549.1 C400.7,549.4 407.2,549.2 413.1,549.2 C418.9,549.2 424.5,549.1 430.4,549.0 C436.3,549.0 442.2,548.9 448.3,549.0 C454.5,549.2 461.3,549.3 467.5,549.7 C473.7,550.1 480.0,550.7 485.7,551.2 C491.5,551.8 497.4,553.3 502.0,553.2 C506.6,553.0 509.7,551.6 513.5,550.3 C517.3,548.9 521.1,547.0 525.0,545.0 C528.9,543.1 532.8,540.5 537.0,538.5 C541.1,536.6 545.8,533.2 549.9,533.0 C554.0,532.9 557.7,535.4 561.4,537.6 C565.2,539.8 568.9,543.0 572.4,546.5 C575.9,549.9 579.2,554.7 582.5,558.4 C585.8,562.2 588.8,566.2 592.1,569.0 C595.3,571.8 598.1,573.8 602.1,575.2 C606.1,576.6 610.4,577.1 616.0,577.6 C621.7,578.1 632.8,578.0 636.1,578.1"/>
<path d="M192.9,588.6 C196.0,588.1 206.0,586.9 211.8,585.5 C217.6,584.1 222.9,583.0 227.9,580.5 C232.8,578.0 237.1,574.7 241.7,570.4 C246.4,566.1 250.8,560.3 255.6,554.6 C260.4,548.9 265.5,542.0 270.5,536.4 C275.4,530.8 280.6,525.0 285.3,520.8 C290.1,516.7 294.8,513.7 299.2,511.5 C303.7,509.3 308.0,508.5 312.2,507.6 C316.3,506.8 320.8,505.0 324.2,506.2 C327.5,507.4 329.4,511.3 332.3,515.1 C335.2,518.8 338.4,523.6 341.4,528.7 C344.4,533.9 347.6,540.1 350.5,546.0 C353.4,551.9 356.0,558.3 358.7,564.2 C361.3,570.1 363.8,576.0 366.3,581.4 C368.8,586.9 371.3,592.0 373.5,597.0 C375.7,602.0 378.7,609.2 379.7,611.6"/>
<path d="M192.9,597.2 C196.0,596.6 205.9,595.3 211.8,593.4 C217.7,591.5 223.0,589.3 228.3,586.0 C233.6,582.6 238.6,578.0 243.7,573.3 C248.8,568.5 253.9,562.7 259.0,557.5 C264.1,552.3 269.2,546.8 274.3,542.1 C279.4,537.5 284.7,533.1 289.7,529.7 C294.6,526.3 299.7,523.5 304.0,521.5 C308.3,519.5 312.1,518.1 315.5,517.7 C319.0,517.3 321.6,517.4 324.6,519.1 C327.7,520.9 330.6,524.1 333.7,528.2 C336.9,532.4 340.1,538.3 343.3,544.1 C346.5,549.8 349.7,556.5 352.9,562.7 C356.1,569.0 359.5,575.6 362.5,581.4 C365.5,587.3 368.6,592.9 371.1,598.0 C373.7,603.0 376.7,609.3 377.8,611.6"/>
<path d="M192.9,603.0 C195.7,602.6 204.0,601.6 209.9,600.6 C215.8,599.6 222.1,598.3 228.3,596.8 C234.6,595.2 241.3,593.2 247.5,591.5 C253.7,589.7 260.0,587.8 265.7,586.2 C271.5,584.7 276.7,583.3 282.0,582.1 C287.3,581.0 292.2,580.1 297.3,579.3 C302.4,578.4 308.2,577.2 312.7,577.1 C317.1,577.0 320.3,578.1 324.2,578.8 C328.0,579.5 331.9,580.4 335.7,581.4 C339.4,582.4 343.2,583.2 346.7,584.8 C350.2,586.4 353.5,588.3 356.7,591.0 C359.9,593.7 363.0,597.4 365.8,600.8 C368.7,604.3 372.6,609.8 374.0,611.6"/>
<path d="M192.9,610.7 C196.9,610.3 209.6,609.3 217.1,608.3 C224.6,607.2 231.2,606.0 237.9,604.4 C244.6,602.8 250.7,600.8 257.1,598.7 C263.5,596.6 270.0,594.0 276.2,592.0 C282.5,589.9 288.7,588.0 294.5,586.5 C300.2,584.9 305.9,582.9 310.7,582.9 C315.5,582.8 319.4,584.4 323.2,586.0 C327.0,587.5 330.5,589.7 333.7,592.2 C336.9,594.8 339.8,598.1 342.4,601.3 C344.9,604.5 348.0,609.9 349.1,611.6"/>
<path d="M247.5,611.6 C250.7,610.5 260.4,607.0 266.7,604.7 C272.9,602.4 279.2,599.8 284.9,597.7 C290.5,595.7 295.7,593.8 300.7,592.5 C305.6,591.1 310.7,589.7 314.6,589.6 C318.4,589.5 320.8,590.4 323.7,592.0 C326.6,593.6 329.2,595.9 331.8,599.2 C334.5,602.4 338.2,609.5 339.5,611.6"/>
<path d="M276.2,611.6 C279.2,610.4 288.6,606.1 294.0,604.2 C299.3,602.2 304.0,600.9 308.3,599.9 C312.7,598.9 317.0,597.7 320.3,598.2 C323.6,598.7 325.4,600.8 328.0,603.0 C330.5,605.2 334.4,610.2 335.7,611.6"/>
<path d="M503.9,611.6 C505.5,608.3 510.3,598.2 513.5,591.7 C516.7,585.3 519.9,578.7 523.1,572.8 C526.3,566.9 529.5,561.0 532.7,556.5 C535.9,552.0 539.0,548.5 542.2,546.0 C545.4,543.5 548.6,541.2 551.8,541.7 C555.0,542.1 558.2,546.0 561.4,548.8 C564.6,551.7 567.8,555.3 571.0,558.9 C574.2,562.5 577.3,566.7 580.6,570.4 C583.8,574.1 587.0,578.0 590.6,581.0 C594.2,583.9 597.7,586.6 602.1,588.4 C606.5,590.2 611.3,591.1 617.0,591.7 C622.7,592.4 633.0,592.3 636.1,592.5"/>
<path d="M509.7,611.6 C511.3,608.3 516.0,598.1 519.2,591.7 C522.4,585.3 525.6,578.8 528.8,573.3 C532.0,567.7 535.4,562.3 538.4,558.4 C541.4,554.5 544.3,551.2 547.0,549.8 C549.7,548.4 552.0,548.5 554.7,549.8 C557.4,551.2 560.3,554.5 563.3,558.0 C566.4,561.4 569.6,566.1 572.9,570.4 C576.2,574.7 579.3,579.8 583.0,583.8 C586.6,587.9 590.1,592.1 594.9,594.8 C599.8,597.6 605.3,599.1 612.2,600.1 C619.1,601.2 632.2,600.9 636.1,601.1"/>
<path d="M590.2,603.0 C592.4,603.8 595.9,606.8 603.6,607.8 C611.2,608.8 630.7,608.9 636.1,609.1"/>
<path d="M531.7,611.6 C533.1,610.5 537.4,606.4 540.1,604.7 C542.8,602.9 545.4,601.4 548.0,601.1 C550.6,600.8 553.1,602.4 555.7,603.0 C558.2,603.6 560.8,605.1 563.3,604.9 C565.9,604.7 568.4,602.5 571.0,601.6 C573.5,600.6 576.1,599.1 578.7,599.2 C581.2,599.2 583.8,600.8 586.3,602.0 C588.8,603.3 591.3,605.0 593.5,606.6 C595.7,608.2 598.7,610.8 599.7,611.6"/>
<path d="M536.5,611.6 C538.4,611.0 544.2,608.2 548.0,607.8 C551.8,607.4 555.7,609.1 559.5,609.1 C563.3,609.1 567.2,608.5 571.0,607.9 C574.8,607.4 579.0,605.3 582.5,605.9 C586.0,606.5 590.5,610.7 592.1,611.6"/>
</g>
<line x1="322.0" y1="350.5" x2="322.0" y2="611.5" stroke="#1a1a1a" stroke-width="3.4"/>
<line x1="450.0" y1="350.5" x2="450.0" y2="611.5" stroke="#1a1a1a" stroke-width="3.4"/>
<rect x="687.3" y="351.5" width="433.5" height="261.0" fill="none" stroke="#5a5a5a" stroke-width="5.8"/>
<line x1="687.0" y1="376.6" x2="702.0" y2="376.6" stroke="#1a1a1a" stroke-width="3"/>
<line x1="1120.5" y1="376.6" x2="1105.5" y2="376.6" stroke="#1a1a1a" stroke-width="3"/>
<line x1="687.0" y1="428.8" x2="695.0" y2="428.8" stroke="#1a1a1a" stroke-width="3"/>
<line x1="1120.5" y1="428.8" x2="1112.5" y2="428.8" stroke="#1a1a1a" stroke-width="3"/>
<line x1="687.0" y1="481.0" x2="702.0" y2="481.0" stroke="#1a1a1a" stroke-width="3"/>
<line x1="1120.5" y1="481.0" x2="1105.5" y2="481.0" stroke="#1a1a1a" stroke-width="3"/>
<line x1="687.0" y1="533.2" x2="695.0" y2="533.2" stroke="#1a1a1a" stroke-width="3"/>
<line x1="1120.5" y1="533.2" x2="1112.5" y2="533.2" stroke="#1a1a1a" stroke-width="3"/>
<line x1="687.0" y1="585.4" x2="702.0" y2="585.4" stroke="#1a1a1a" stroke-width="3"/>
<line x1="1120.5" y1="585.4" x2="1105.5" y2="585.4" stroke="#1a1a1a" stroke-width="3"/>
<line x1="707.0" y1="350.5" x2="707.0" y2="354.5" stroke="#1a1a1a" stroke-width="3"/>
<line x1="707.0" y1="611.5" x2="707.0" y2="607.5" stroke="#1a1a1a" stroke-width="3"/>
<line x1="739.0" y1="350.5" x2="739.0" y2="354.5" stroke="#1a1a1a" stroke-width="3"/>
<line x1="739.0" y1="611.5" x2="739.0" y2="607.5" stroke="#1a1a1a" stroke-width="3"/>
<line x1="771.0" y1="350.5" x2="771.0" y2="354.5" stroke="#1a1a1a" stroke-width="3"/>
<line x1="771.0" y1="611.5" x2="771.0" y2="607.5" stroke="#1a1a1a" stroke-width="3"/>
<line x1="803.0" y1="350.5" x2="803.0" y2="354.5" stroke="#1a1a1a" stroke-width="3"/>
<line x1="803.0" y1="611.5" x2="803.0" y2="607.5" stroke="#1a1a1a" stroke-width="3"/>
<line x1="835.0" y1="350.5" x2="835.0" y2="354.5" stroke="#1a1a1a" stroke-width="3"/>
<line x1="835.0" y1="611.5" x2="835.0" y2="607.5" stroke="#1a1a1a" stroke-width="3"/>
<line x1="867.0" y1="350.5" x2="867.0" y2="354.5" stroke="#1a1a1a" stroke-width="3"/>
<line x1="867.0" y1="611.5" x2="867.0" y2="607.5" stroke="#1a1a1a" stroke-width="3"/>
<line x1="899.0" y1="350.5" x2="899.0" y2="354.5" stroke="#1a1a1a" stroke-width="3"/>
<line x1="899.0" y1="611.5" x2="899.0" y2="607.5" stroke="#1a1a1a" stroke-width="3"/>
<line x1="931.0" y1="350.5" x2="931.0" y2="354.5" stroke="#1a1a1a" stroke-width="3"/>
<line x1="931.0" y1="611.5" x2="931.0" y2="607.5" stroke="#1a1a1a" stroke-width="3"/>
<line x1="963.0" y1="350.5" x2="963.0" y2="354.5" stroke="#1a1a1a" stroke-width="3"/>
<line x1="963.0" y1="611.5" x2="963.0" y2="607.5" stroke="#1a1a1a" stroke-width="3"/>
<line x1="995.0" y1="350.5" x2="995.0" y2="354.5" stroke="#1a1a1a" stroke-width="3"/>
<line x1="995.0" y1="611.5" x2="995.0" y2="607.5" stroke="#1a1a1a" stroke-width="3"/>
<line x1="1027.0" y1="350.5" x2="1027.0" y2="354.5" stroke="#1a1a1a" stroke-width="3"/>
<line x1="1027.0" y1="611.5" x2="1027.0" y2="607.5" stroke="#1a1a1a" stroke-width="3"/>
<line x1="1059.0" y1="350.5" x2="1059.0" y2="354.5" stroke="#1a1a1a" stroke-width="3"/>
<line x1="1059.0" y1="611.5" x2="1059.0" y2="607.5" stroke="#1a1a1a" stroke-width="3"/>
<line x1="1091.0" y1="350.5" x2="1091.0" y2="354.5" stroke="#1a1a1a" stroke-width="3"/>
<line x1="1091.0" y1="611.5" x2="1091.0" y2="607.5" stroke="#1a1a1a" stroke-width="3"/>
<g clip-path="url(#cp11)" fill="none" stroke="#0000ff" stroke-width="5.8" stroke-linecap="round" stroke-linejoin="round">
<path d="M684.9,403.4 C688.4,403.7 698.9,404.3 706.2,405.0 C713.5,405.8 721.6,406.8 728.5,407.9 C735.4,409.1 742.1,410.2 747.6,412.0 C753.2,413.8 757.6,415.9 762.0,418.5 C766.4,421.0 770.1,424.5 774.0,427.3 C777.9,430.2 781.7,433.2 785.5,435.5 C789.3,437.7 793.6,440.6 797.0,440.7 C800.4,440.9 803.2,437.9 806.1,436.2 C809.0,434.4 811.3,431.0 814.2,430.2 C817.2,429.4 820.6,431.6 823.8,431.2 C827.0,430.7 830.2,429.4 833.4,427.3 C836.6,425.3 839.8,422.3 843.0,418.7 C846.2,415.1 849.4,410.4 852.6,405.8 C855.8,401.1 859.0,395.9 862.2,390.9 C865.3,386.0 868.5,380.7 871.7,376.1 C874.9,371.4 878.2,366.8 881.3,363.1 C884.4,359.5 887.5,356.4 890.2,354.1 C892.9,351.8 896.4,350.0 897.6,349.1"/>
<path d="M727.0,349.1 C729.1,351.2 735.3,356.9 739.3,361.3 C743.2,365.7 747.1,370.7 751.0,375.6 C754.9,380.4 758.7,385.7 762.5,390.4 C766.3,395.1 770.2,399.9 774.0,403.8 C777.8,407.8 781.7,411.6 785.5,414.4 C789.2,417.2 793.1,419.0 796.5,420.6 C799.9,422.2 803.1,423.0 806.1,424.0 C809.1,424.9 811.8,426.0 814.7,426.4 C817.7,426.8 820.8,427.2 823.8,426.4 C826.9,425.6 830.1,424.1 832.9,421.6 C835.8,419.1 838.4,415.4 841.1,411.5 C843.7,407.6 846.2,402.8 848.7,398.1 C851.3,393.4 853.8,388.2 856.4,383.2 C859.0,378.3 861.7,372.8 864.1,368.4 C866.5,363.9 868.9,359.7 870.9,356.5 C872.9,353.3 875.1,350.4 876.0,349.1"/>
<path d="M744.3,349.1 C746.1,351.4 751.4,358.1 755.1,362.7 C758.7,367.4 762.5,372.4 766.3,377.0 C770.1,381.6 774.0,386.4 777.8,390.4 C781.7,394.5 785.4,398.3 789.3,401.5 C793.2,404.6 797.2,407.0 801.3,409.1 C805.5,411.2 810.5,413.8 814.2,413.9 C818.0,414.0 820.6,411.7 823.8,409.6 C827.0,407.5 830.3,404.7 833.4,401.2 C836.5,397.7 839.7,393.0 842.5,388.5 C845.3,384.0 847.8,378.8 850.2,374.1 C852.5,369.5 854.4,365.0 856.5,360.8 C858.6,356.7 861.5,351.1 862.5,349.1"/>
<path d="M769.2,349.1 C770.6,351.3 774.8,357.8 777.6,362.3 C780.4,366.7 783.1,371.4 786.0,376.1 C788.9,380.8 792.0,386.0 795.1,390.4 C798.2,394.9 801.5,399.3 804.7,402.9 C807.9,406.5 810.8,411.1 814.2,412.0 C817.7,412.9 821.7,410.3 825.3,408.2 C828.8,406.0 832.1,402.9 835.3,399.1 C838.5,395.2 841.6,390.0 844.4,385.2 C847.3,380.3 850.0,374.5 852.3,369.8 C854.7,365.1 856.8,360.4 858.6,357.0 C860.4,353.5 862.4,350.4 863.1,349.1"/>
<path d="M774.0,349.7 C775.3,350.5 779.1,353.0 781.7,354.5 C784.2,356.0 786.8,357.5 789.3,358.6 C791.9,359.7 794.4,361.2 797.0,361.2 C799.5,361.2 802.2,359.7 804.7,358.6 C807.1,357.5 809.5,356.0 811.6,354.6 C813.7,353.3 816.2,351.0 817.1,350.3"/>
<path d="M814.2,427.3 C816.3,426.4 822.9,424.3 826.7,421.6 C830.5,418.9 834.0,415.3 837.2,411.0 C840.5,406.8 843.5,401.5 846.3,396.2 C849.2,390.9 851.9,384.9 854.5,379.4 C857.1,373.9 859.5,368.3 861.8,363.2 C864.1,358.2 867.2,351.5 868.3,349.1"/>
<path d="M712.7,350.7 C717.1,350.7 729.9,350.7 739.5,350.7 C749.1,350.7 765.0,350.7 770.2,350.7"/>
<path d="M816.2,350.7 L835.3,350.7"/>
<path d="M976.4,349.2 C978.3,351.6 983.8,358.5 987.7,363.4 C991.7,368.3 996.0,373.9 1000.1,378.8 C1004.1,383.7 1008.2,388.7 1012.1,392.8 C1016.1,396.9 1019.6,400.6 1023.7,403.4 C1027.9,406.3 1032.0,408.3 1036.8,409.9 C1041.6,411.6 1047.3,413.7 1052.8,413.6 C1058.2,413.5 1064.1,410.5 1069.7,409.2 C1075.2,408.0 1080.4,406.9 1086.1,406.1 C1091.8,405.3 1097.6,404.8 1104.0,404.4 C1110.4,404.0 1120.9,404.0 1124.3,403.9"/>
<path d="M1009.2,349.2 C1011.1,351.2 1016.3,357.8 1020.1,361.5 C1024.0,365.1 1028.0,368.3 1032.4,371.0 C1036.9,373.8 1042.7,377.6 1047.0,377.8 C1051.2,378.0 1054.5,374.7 1058.1,372.5 C1061.6,370.2 1065.0,367.1 1068.2,364.3 C1071.4,361.5 1074.4,358.2 1077.2,355.7 C1079.9,353.2 1083.4,350.3 1084.7,349.2"/>
<path d="M1015.0,349.2 C1016.9,350.8 1022.2,355.6 1025.9,358.6 C1029.6,361.5 1033.5,364.4 1037.3,366.7 C1041.1,368.9 1045.3,372.3 1048.9,372.0 C1052.4,371.7 1055.5,367.4 1058.6,364.8 C1061.6,362.1 1064.6,358.7 1067.0,356.1 C1069.4,353.6 1072.0,350.3 1073.1,349.2"/>
<path d="M1022.8,349.2 C1024.2,350.3 1028.5,353.8 1031.2,355.7 C1034.0,357.5 1036.4,360.1 1039.2,360.4 C1042.1,360.7 1045.6,358.7 1048.4,357.5 C1051.2,356.3 1053.7,354.6 1055.9,353.2 C1058.1,351.9 1060.5,349.9 1061.5,349.2"/>
<path d="M900.0,350.7 L919.3,350.7"/>
<path d="M684.9,548.4 C689.2,548.5 702.0,549.0 710.7,548.9 C719.5,548.8 729.5,548.5 737.1,547.8 C744.7,547.1 750.9,546.4 756.3,544.8 C761.6,543.2 765.0,540.8 769.2,538.3 C773.4,535.8 777.2,532.4 781.2,529.9 C785.2,527.4 789.5,524.2 793.2,523.5 C796.8,522.7 799.6,524.5 803.2,525.4 C806.8,526.3 810.8,527.4 814.7,528.7 C818.6,530.0 822.9,531.2 826.7,533.3 C830.5,535.4 833.9,537.9 837.2,541.2 C840.6,544.5 843.6,549.0 846.8,553.2 C850.0,557.3 853.1,562.1 856.4,566.1 C859.7,570.1 862.8,574.0 866.5,577.1 C870.1,580.2 874.1,582.7 878.4,584.5 C882.8,586.4 887.8,587.3 892.5,588.1 C897.2,589.0 901.7,589.3 906.5,589.8 C911.4,590.3 916.0,590.8 921.8,591.2 C927.6,591.7 935.6,592.6 941.6,592.4 C947.6,592.2 952.5,591.0 957.8,590.0 C963.0,588.9 968.1,587.8 973.0,586.1 C977.9,584.4 982.4,582.7 987.0,579.8 C991.6,577.0 996.2,573.4 1000.5,569.2 C1004.9,565.0 1009.2,559.3 1013.1,554.7 C1017.1,550.2 1020.5,545.4 1024.2,541.9 C1027.9,538.4 1031.6,534.4 1035.3,533.4 C1039.1,532.5 1042.9,535.0 1047.0,536.1 C1051.0,537.2 1054.8,538.8 1059.5,540.2 C1064.2,541.7 1068.9,543.5 1075.0,544.8 C1081.1,546.1 1088.0,547.3 1096.3,548.1 C1104.5,548.9 1119.6,549.3 1124.3,549.5"/>
<path d="M684.9,577.1 C689.2,577.3 703.6,578.2 710.7,578.1 C717.9,577.9 722.6,577.2 727.5,576.2 C732.4,575.1 736.1,573.4 740.0,571.6 C743.9,569.8 747.1,567.2 751.0,565.1 C754.9,563.1 759.1,561.1 763.5,559.2 C767.8,557.2 772.6,555.7 776.9,553.6 C781.2,551.6 785.3,549.2 789.3,546.9 C793.4,544.6 797.2,541.9 801.3,539.7 C805.5,537.6 810.2,534.3 814.2,534.0 C818.2,533.7 821.7,536.0 825.3,537.8 C828.8,539.7 832.0,542.1 835.3,545.3 C838.6,548.5 841.7,552.9 844.9,557.0 C848.1,561.1 851.2,565.9 854.5,569.9 C857.8,573.9 860.9,577.9 864.5,581.0 C868.2,584.0 872.1,586.6 876.5,588.4 C881.0,590.2 884.6,591.1 891.1,591.9 C897.6,592.6 906.1,592.5 915.7,593.0 C925.4,593.4 939.6,593.6 949.1,594.5 C958.7,595.4 966.7,596.9 973.0,598.5 C979.3,600.0 983.4,603.9 987.0,604.0 C990.6,604.1 992.1,602.0 994.7,599.2 C997.4,596.4 1000.1,591.9 1003.0,587.1 C1005.9,582.3 1009.0,575.3 1012.1,570.2 C1015.3,565.1 1018.4,559.7 1021.8,556.4 C1025.3,553.1 1029.0,551.2 1032.9,550.1 C1036.9,549.0 1041.6,549.0 1045.5,549.6 C1049.4,550.3 1053.2,551.8 1056.6,554.0 C1060.1,556.2 1063.1,560.0 1066.3,562.9 C1069.5,565.9 1072.4,569.4 1076.0,571.6 C1079.5,573.8 1082.9,575.2 1087.6,576.2 C1092.2,577.2 1097.9,577.4 1104.0,577.7 C1110.1,578.0 1120.9,577.9 1124.3,577.9"/>
<path d="M701.2,612.2 C704.2,609.9 713.7,603.3 719.4,598.6 C725.0,593.9 730.2,588.9 735.2,583.8 C740.1,578.7 744.6,573.3 749.1,568.0 C753.6,562.7 757.9,557.1 762.0,552.2 C766.2,547.3 770.1,542.4 774.0,538.5 C777.9,534.7 781.7,531.5 785.5,529.0 C789.3,526.5 795.1,524.4 797.0,523.5"/>
<path d="M716.5,612.2 C719.7,609.4 729.4,600.9 735.7,595.7 C741.9,590.5 748.1,585.6 753.9,581.0 C759.6,576.3 765.0,572.3 770.2,568.0 C775.4,563.7 780.4,559.2 785.0,555.1 C789.6,550.9 794.1,546.4 797.9,543.1 C801.8,539.8 805.0,537.2 808.0,535.3 C811.0,533.4 812.4,530.9 816.2,531.7 C819.9,532.5 826.1,536.4 830.5,540.1 C835.0,543.9 839.1,548.8 843.0,554.1 C846.9,559.5 850.6,566.4 854.0,572.3 C857.4,578.2 860.8,584.6 863.6,589.6 C866.4,594.6 868.9,598.6 871.0,602.4 C873.2,606.2 875.6,610.6 876.5,612.2"/>
<path d="M729.9,612.2 C732.9,610.4 742.5,605.0 748.1,601.5 C753.8,597.9 759.1,594.7 763.9,591.0 C768.8,587.4 773.1,583.7 777.3,579.5 C781.6,575.4 785.5,570.7 789.3,566.1 C793.2,561.5 797.1,556.0 800.3,551.7 C803.6,547.4 806.7,543.2 809.0,540.2 C811.3,537.3 813.4,535.0 814.2,534.0"/>
<path d="M684.9,610.7 C687.7,610.1 696.1,608.9 701.9,607.3 C707.6,605.7 713.6,603.2 719.4,601.1 C725.2,599.0 730.7,596.3 736.6,594.6 C742.5,592.9 748.8,591.9 754.8,591.0 C760.9,590.2 767.3,590.0 773.0,589.6 C778.8,589.2 784.2,588.5 789.3,588.6 C794.4,588.7 799.2,589.3 803.7,590.1 C808.2,590.8 812.3,591.6 816.2,592.9 C820.0,594.2 823.5,596.0 826.7,598.0 C829.9,599.9 832.6,602.4 835.3,604.8 C838.0,607.2 841.7,611.0 843.0,612.2"/>
<path d="M729.9,612.2 C733.1,611.3 742.7,608.4 749.1,606.7 C755.5,605.0 761.9,603.3 768.2,602.0 C774.6,600.8 782.0,599.4 787.4,599.2 C792.8,598.9 796.5,599.9 800.8,600.6 C805.1,601.3 809.5,602.1 813.3,603.2 C817.0,604.3 820.3,605.7 823.3,607.2 C826.4,608.7 830.1,611.4 831.5,612.2"/>
<path d="M768.2,612.2 C771.2,611.6 780.5,609.7 786.0,608.4 C791.4,607.2 796.1,605.7 800.8,604.7 C805.5,603.6 810.5,601.6 814.2,602.0 C818.0,602.4 820.5,605.3 823.3,607.0 C826.2,608.7 830.1,611.3 831.5,612.2"/>
<path d="M684.9,611.6 C690.9,611.6 708.0,611.6 721.0,611.6 C734.1,611.6 748.4,611.6 763.5,611.6 C778.5,611.6 796.2,611.6 811.4,611.6 C826.5,611.6 847.3,611.6 854.5,611.6"/>
<path d="M989.9,613.3 C992.7,611.5 1001.6,606.7 1006.6,602.5 C1011.6,598.3 1015.8,593.0 1019.9,588.1 C1023.9,583.1 1027.6,576.9 1031.0,572.6 C1034.4,568.2 1037.5,564.5 1040.2,562.0 C1042.8,559.5 1044.5,556.9 1047.0,557.6 C1049.4,558.3 1052.3,563.2 1055.2,566.3 C1058.1,569.4 1061.3,573.2 1064.4,576.2 C1067.4,579.2 1070.5,581.9 1073.5,584.2 C1076.6,586.5 1079.4,587.6 1082.7,589.8 C1086.0,591.9 1089.3,594.6 1093.4,597.2 C1097.4,599.9 1101.7,603.4 1106.9,605.6 C1112.0,607.7 1121.4,609.4 1124.3,610.2"/>
<path d="M1003.4,613.3 C1005.5,610.6 1011.7,602.8 1015.8,597.1 C1019.8,591.5 1023.9,584.9 1027.6,579.4 C1031.4,573.8 1034.9,567.9 1038.2,563.9 C1041.6,559.9 1044.4,557.2 1047.4,555.2 C1050.5,553.2 1053.5,550.7 1056.6,551.8 C1059.8,552.9 1063.1,558.3 1066.3,562.0 C1069.5,565.7 1072.7,569.7 1076.0,574.0 C1079.2,578.4 1082.4,583.7 1085.6,588.1 C1088.8,592.5 1091.7,597.1 1095.3,600.4 C1098.9,603.6 1102.5,605.9 1107.4,607.5 C1112.2,609.1 1121.5,609.7 1124.3,610.2"/>
<path d="M1022.8,613.3 C1024.3,611.4 1028.7,605.1 1031.7,602.0 C1034.8,598.8 1037.7,595.0 1041.1,594.3 C1044.6,593.7 1048.8,596.4 1052.3,598.2 C1055.7,600.0 1058.9,602.9 1061.7,605.4 C1064.5,607.9 1067.9,612.0 1069.2,613.3"/>
</g>
<line x1="814.0" y1="350.5" x2="814.0" y2="611.5" stroke="#1a1a1a" stroke-width="3.4"/>
<line x1="942.0" y1="350.5" x2="942.0" y2="611.5" stroke="#1a1a1a" stroke-width="3.4"/>
<rect x="195.3" y="664.3" width="433.5" height="261.0" fill="none" stroke="#5a5a5a" stroke-width="5.8"/>
<line x1="195.0" y1="689.4" x2="210.0" y2="689.4" stroke="#1a1a1a" stroke-width="3"/>
<line x1="628.5" y1="689.4" x2="613.5" y2="689.4" stroke="#1a1a1a" stroke-width="3"/>
<line x1="195.0" y1="741.5999999999999" x2="203.0" y2="741.5999999999999" stroke="#1a1a1a" stroke-width="3"/>
<line x1="628.5" y1="741.5999999999999" x2="620.5" y2="741.5999999999999" stroke="#1a1a1a" stroke-width="3"/>
<line x1="195.0" y1="793.8" x2="210.0" y2="793.8" stroke="#1a1a1a" stroke-width="3"/>
<line x1="628.5" y1="793.8" x2="613.5" y2="793.8" stroke="#1a1a1a" stroke-width="3"/>
<line x1="195.0" y1="846.0" x2="203.0" y2="846.0" stroke="#1a1a1a" stroke-width="3"/>
<line x1="628.5" y1="846.0" x2="620.5" y2="846.0" stroke="#1a1a1a" stroke-width="3"/>
<line x1="195.0" y1="898.1999999999999" x2="210.0" y2="898.1999999999999" stroke="#1a1a1a" stroke-width="3"/>
<line x1="628.5" y1="898.1999999999999" x2="613.5" y2="898.1999999999999" stroke="#1a1a1a" stroke-width="3"/>
<line x1="215.0" y1="663.3" x2="215.0" y2="667.3" stroke="#1a1a1a" stroke-width="3"/>
<line x1="215.0" y1="924.3" x2="215.0" y2="920.3" stroke="#1a1a1a" stroke-width="3"/>
<line x1="247.0" y1="663.3" x2="247.0" y2="667.3" stroke="#1a1a1a" stroke-width="3"/>
<line x1="247.0" y1="924.3" x2="247.0" y2="920.3" stroke="#1a1a1a" stroke-width="3"/>
<line x1="279.0" y1="663.3" x2="279.0" y2="667.3" stroke="#1a1a1a" stroke-width="3"/>
<line x1="279.0" y1="924.3" x2="279.0" y2="920.3" stroke="#1a1a1a" stroke-width="3"/>
<line x1="311.0" y1="663.3" x2="311.0" y2="667.3" stroke="#1a1a1a" stroke-width="3"/>
<line x1="311.0" y1="924.3" x2="311.0" y2="920.3" stroke="#1a1a1a" stroke-width="3"/>
<line x1="343.0" y1="663.3" x2="343.0" y2="667.3" stroke="#1a1a1a" stroke-width="3"/>
<line x1="343.0" y1="924.3" x2="343.0" y2="920.3" stroke="#1a1a1a" stroke-width="3"/>
<line x1="375.0" y1="663.3" x2="375.0" y2="667.3" stroke="#1a1a1a" stroke-width="3"/>
<line x1="375.0" y1="924.3" x2="375.0" y2="920.3" stroke="#1a1a1a" stroke-width="3"/>
<line x1="407.0" y1="663.3" x2="407.0" y2="667.3" stroke="#1a1a1a" stroke-width="3"/>
<line x1="407.0" y1="924.3" x2="407.0" y2="920.3" stroke="#1a1a1a" stroke-width="3"/>
<line x1="439.0" y1="663.3" x2="439.0" y2="667.3" stroke="#1a1a1a" stroke-width="3"/>
<line x1="439.0" y1="924.3" x2="439.0" y2="920.3" stroke="#1a1a1a" stroke-width="3"/>
<line x1="471.0" y1="663.3" x2="471.0" y2="667.3" stroke="#1a1a1a" stroke-width="3"/>
<line x1="471.0" y1="924.3" x2="471.0" y2="920.3" stroke="#1a1a1a" stroke-width="3"/>
<line x1="503.0" y1="663.3" x2="503.0" y2="667.3" stroke="#1a1a1a" stroke-width="3"/>
<line x1="503.0" y1="924.3" x2="503.0" y2="920.3" stroke="#1a1a1a" stroke-width="3"/>
<line x1="535.0" y1="663.3" x2="535.0" y2="667.3" stroke="#1a1a1a" stroke-width="3"/>
<line x1="535.0" y1="924.3" x2="535.0" y2="920.3" stroke="#1a1a1a" stroke-width="3"/>
<line x1="567.0" y1="663.3" x2="567.0" y2="667.3" stroke="#1a1a1a" stroke-width="3"/>
<line x1="567.0" y1="924.3" x2="567.0" y2="920.3" stroke="#1a1a1a" stroke-width="3"/>
<line x1="599.0" y1="663.3" x2="599.0" y2="667.3" stroke="#1a1a1a" stroke-width="3"/>
<line x1="599.0" y1="924.3" x2="599.0" y2="920.3" stroke="#1a1a1a" stroke-width="3"/>
<g clip-path="url(#cp20)" fill="none" stroke="#0000ff" stroke-width="5.8" stroke-linecap="round" stroke-linejoin="round">
<path d="M192.9,684.7 C195.7,685.2 204.0,686.1 209.9,687.6 C215.8,689.1 222.1,690.9 228.3,693.9 C234.6,696.8 241.3,700.8 247.5,705.4 C253.7,709.9 260.0,715.7 265.7,721.2 C271.5,726.7 276.8,732.9 282.0,738.4 C287.2,743.9 292.1,749.7 296.8,754.2 C301.6,758.7 306.0,762.5 310.3,765.5 C314.5,768.4 318.2,772.2 322.2,771.9 C326.2,771.7 330.0,767.4 334.2,764.0 C338.5,760.7 342.9,756.2 347.6,751.6 C352.3,747.0 357.5,741.6 362.5,736.5 C367.5,731.4 372.7,726.2 377.8,721.2 C382.9,716.1 388.1,710.6 393.2,706.1 C398.2,701.5 403.2,697.2 407.9,693.9 C412.6,690.5 416.8,688.4 421.1,686.2 C425.5,684.0 429.4,682.4 434.0,680.7 C438.5,679.0 443.9,676.4 448.3,676.1 C452.8,675.8 456.3,677.3 460.8,678.8 C465.3,680.2 470.2,682.5 475.2,684.7 C480.1,687.0 485.4,689.8 490.5,692.4 C495.6,695.0 500.9,697.8 505.8,700.6 C510.8,703.4 515.7,706.5 520.2,709.2 C524.7,711.8 528.7,714.4 532.7,716.4 C536.7,718.4 540.3,721.3 544.2,721.2 C548.0,721.0 551.8,718.0 555.7,715.4 C559.5,712.9 563.3,709.3 567.2,705.8 C571.0,702.4 574.8,698.2 578.7,694.8 C582.5,691.5 586.2,688.3 590.2,685.7 C594.1,683.1 597.8,681.1 602.1,679.0 C606.4,676.9 611.0,675.2 616.0,673.2 C621.1,671.3 629.6,668.5 632.3,667.5"/>
<path d="M192.9,667.5 C196.2,668.4 206.2,670.4 212.8,672.8 C219.3,675.2 225.7,678.2 232.2,681.9 C238.6,685.5 245.1,690.2 251.3,694.8 C257.6,699.4 263.9,704.8 269.5,709.7 C275.1,714.5 280.2,719.8 284.9,724.0 C289.5,728.3 293.3,732.3 297.3,735.3 C301.4,738.3 305.2,740.4 309.3,742.2 C313.5,744.0 318.2,746.3 322.2,746.1 C326.3,745.8 330.0,743.2 333.7,740.8 C337.5,738.4 341.3,735.4 344.8,731.7 C348.2,728.0 351.4,723.4 354.3,718.8 C357.3,714.1 359.9,708.9 362.5,703.9 C365.0,699.0 367.5,693.8 369.7,689.1 C371.9,684.3 373.9,679.8 375.8,675.4 C377.7,671.0 380.4,664.8 381.3,662.7"/>
<path d="M192.9,684.7 C195.7,685.0 204.0,685.3 209.9,686.2 C215.8,687.1 222.1,688.1 228.3,690.3 C234.6,692.4 241.3,695.5 247.5,699.1 C253.7,702.8 260.0,707.7 265.7,712.1 C271.4,716.5 276.6,721.6 281.5,725.5 C286.5,729.3 290.9,732.7 295.4,735.1 C300.0,737.4 304.5,738.7 308.8,739.4 C313.1,740.1 317.4,740.0 321.3,739.4 C325.1,738.7 328.5,737.6 331.8,735.5 C335.2,733.5 338.3,730.6 341.4,726.9 C344.5,723.2 347.6,718.3 350.5,713.5 C353.4,708.7 356.0,703.5 358.7,698.2 C361.3,692.9 363.8,687.5 366.4,681.6 C369.0,675.7 373.0,665.9 374.4,662.7"/>
<path d="M250.9,662.7 C252.4,664.8 256.4,671.1 259.4,675.4 C262.3,679.7 265.4,684.1 268.6,688.6 C271.8,693.1 275.1,697.8 278.6,702.5 C282.2,707.1 285.9,712.3 289.7,716.4 C293.4,720.5 297.4,724.4 301.2,727.2 C304.9,729.9 308.7,731.4 312.2,732.7 C315.7,733.9 318.9,735.1 322.2,734.6 C325.6,734.1 328.9,732.2 332.3,729.8 C335.7,727.4 339.5,724.0 342.8,720.0 C346.2,716.0 349.5,710.7 352.4,705.8 C355.4,700.9 358.0,695.5 360.6,690.5 C363.1,685.5 365.6,680.5 367.9,675.9 C370.2,671.3 373.3,664.9 374.4,662.7"/>
<path d="M266.3,662.7 C267.7,665.1 271.8,672.4 274.7,677.3 C277.6,682.3 280.7,687.4 283.9,692.4 C287.1,697.4 290.5,702.8 294.0,707.3 C297.4,711.7 301.2,716.2 304.5,719.2 C307.9,722.3 311.1,724.3 314.1,725.7 C317.0,727.2 319.2,728.3 322.2,727.9 C325.3,727.4 328.9,725.4 332.3,722.8 C335.7,720.3 339.5,716.7 342.8,712.5 C346.2,708.4 349.4,703.3 352.4,698.2 C355.4,693.0 358.0,687.5 360.8,681.6 C363.6,675.7 367.8,665.9 369.2,662.7"/>
<path d="M279.7,662.7 C281.1,665.1 285.2,672.5 288.1,677.3 C291.1,682.2 294.2,687.3 297.3,691.9 C300.5,696.6 303.9,701.5 306.9,705.4 C309.9,709.2 313.0,712.6 315.5,714.9 C318.1,717.2 319.4,719.2 322.2,719.2 C325.0,719.3 328.9,717.6 332.3,715.4 C335.7,713.3 339.5,710.1 342.8,706.3 C346.2,702.5 349.5,697.2 352.4,692.4 C355.3,687.6 357.8,682.3 360.2,677.3 C362.6,672.4 365.6,665.1 366.7,662.7"/>
<path d="M288.7,662.7 C290.5,664.7 295.8,671.0 299.5,674.4 C303.2,677.9 306.9,681.0 310.7,683.3 C314.5,685.7 318.4,688.6 322.2,688.6 C326.1,688.6 329.9,685.7 333.7,683.3 C337.5,681.0 341.3,677.9 345.0,674.4 C348.7,671.0 354.0,664.7 355.8,662.7"/>
<path d="M293.5,664.0 C296.0,664.0 303.1,664.0 308.8,664.0 C314.6,664.0 324.8,664.0 328.0,664.0"/>
<path d="M551.8,707.7 C553.7,706.7 559.5,703.5 563.3,701.3 C567.2,699.0 570.8,696.3 574.8,694.3 C578.8,692.4 582.9,690.6 587.3,689.4 C591.7,688.2 596.4,687.7 601.2,687.2 C606.0,686.7 610.8,686.6 616.0,686.4 C621.2,686.2 629.6,686.1 632.3,686.1"/>
<path d="M510.6,662.7 C512.1,664.8 516.4,671.1 519.5,675.4 C522.6,679.7 525.8,684.5 529.3,688.6 C532.8,692.7 536.6,696.9 540.3,700.1 C544.1,703.3 549.9,706.5 551.8,707.7"/>
<path d="M578.7,692.4 C581.2,691.3 588.6,687.6 594.0,685.9 C599.4,684.3 604.8,683.2 611.2,682.3 C617.6,681.4 628.8,680.8 632.3,680.5"/>
<path d="M516.4,662.7 C518.1,664.3 523.2,669.7 526.7,672.5 C530.1,675.4 533.4,677.9 537.0,680.0 C540.5,682.0 544.3,684.5 548.0,684.7 C551.7,685.0 555.5,683.2 559.0,681.4 C562.5,679.6 565.7,677.1 568.8,674.0 C571.9,670.9 576.2,664.6 577.7,662.7"/>
<path d="M524.0,662.7 C525.8,664.0 531.1,668.2 534.8,670.6 C538.5,673.0 542.6,676.6 546.1,677.1 C549.5,677.6 552.7,675.2 555.7,673.7 C558.7,672.3 561.6,670.1 564.0,668.2 C566.4,666.4 569.0,663.6 570.0,662.7"/>
<path d="M531.7,662.7 C533.3,663.4 538.5,665.7 541.5,666.8 C544.6,667.9 547.3,669.4 549.9,669.4 C552.5,669.4 554.9,667.9 557.3,666.8 C559.7,665.7 563.1,663.4 564.3,662.7"/>
<path d="M192.9,870.0 C197.2,870.2 210.2,871.6 218.7,871.0 C227.3,870.4 236.9,868.7 244.1,866.4 C251.4,864.1 257.0,860.9 262.3,857.1 C267.7,853.2 271.8,847.8 276.2,843.2 C280.7,838.5 285.0,833.1 289.2,829.3 C293.3,825.4 297.2,822.1 301.2,819.9 C305.1,817.7 308.8,816.7 312.7,816.1 C316.5,815.5 320.3,815.6 324.2,816.6 C328.0,817.5 331.8,819.2 335.7,821.8 C339.5,824.4 343.3,828.4 347.2,832.1 C351.0,835.9 354.8,840.6 358.7,844.1 C362.5,847.7 366.0,851.0 370.2,853.5 C374.3,855.9 378.7,857.5 383.6,858.7 C388.5,860.0 394.3,860.5 399.6,860.9 C404.8,861.3 409.9,861.1 415.0,860.9 C420.1,860.7 424.9,860.1 430.4,859.7 C436.0,859.3 442.2,858.9 448.3,858.7 C454.5,858.6 461.1,858.6 467.5,858.7 C473.9,858.9 480.3,859.2 486.7,859.5 C493.0,859.7 500.7,860.8 505.8,860.4 C510.9,860.1 513.5,858.7 517.3,857.3 C521.2,855.9 525.1,853.7 528.8,852.0 C532.6,850.4 536.3,848.4 539.8,847.2 C543.4,846.1 546.6,844.7 549.9,845.1 C553.3,845.4 556.5,847.5 560.0,849.4 C563.5,851.3 567.2,854.0 571.0,856.3 C574.7,858.7 578.4,861.6 582.5,863.5 C586.6,865.5 590.3,867.0 595.4,868.1 C600.5,869.1 606.4,869.4 613.2,869.8 C619.9,870.1 632.3,870.0 636.1,870.0"/>
<path d="M192.9,900.7 C195.7,900.5 204.1,900.7 209.9,899.7 C215.6,898.7 221.7,897.5 227.4,894.9 C233.0,892.3 238.4,888.4 243.7,883.9 C248.9,879.4 254.0,873.4 259.0,868.1 C263.9,862.7 268.9,856.7 273.4,851.8 C277.8,846.8 281.8,842.1 285.8,838.4 C289.8,834.6 293.4,831.6 297.3,829.3 C301.2,827.0 305.2,825.7 309.3,824.5 C313.5,823.3 318.5,821.0 322.2,822.1 C326.0,823.2 328.6,827.5 331.8,831.2 C335.0,834.9 338.3,839.3 341.4,844.1 C344.5,849.0 347.6,854.8 350.5,860.4 C353.4,866.0 356.0,872.0 358.7,877.7 C361.3,883.3 363.8,889.0 366.3,894.4 C368.9,899.9 371.4,905.1 374.0,910.2 C376.5,915.4 380.4,923.0 381.7,925.6"/>
<path d="M192.9,904.5 C196.0,904.3 205.8,904.5 211.8,903.5 C217.8,902.6 223.3,901.4 228.8,898.7 C234.4,896.1 239.7,892.2 245.1,887.7 C250.5,883.3 255.8,877.3 260.9,871.9 C266.0,866.6 271.0,860.5 275.8,855.6 C280.6,850.7 285.2,846.1 289.7,842.4 C294.1,838.8 298.4,836.1 302.6,833.8 C306.7,831.5 311.0,829.0 314.6,828.8 C318.2,828.6 321.0,830.1 324.2,832.4 C327.4,834.7 330.5,838.3 333.7,842.7 C336.9,847.1 340.1,853.1 343.3,859.0 C346.5,864.8 349.7,871.4 352.9,877.7 C356.1,884.0 359.5,890.8 362.5,896.8 C365.5,902.8 368.5,908.8 370.9,913.6 C373.3,918.4 375.9,923.6 376.9,925.6"/>
<path d="M209.2,916.0 C212.4,914.5 222.1,910.5 228.3,906.9 C234.6,903.3 240.8,899.1 246.5,894.4 C252.3,889.8 257.6,884.4 262.8,879.1 C268.0,873.8 272.9,867.9 277.7,862.8 C282.5,857.7 287.1,852.4 291.6,848.4 C296.0,844.4 300.4,841.3 304.5,838.9 C308.7,836.4 313.1,833.7 316.5,833.6 C319.9,833.5 322.0,835.6 325.1,838.4 C328.2,841.2 331.8,845.4 335.2,850.4 C338.5,855.3 342.0,861.8 345.2,868.1 C348.5,874.3 351.7,881.2 354.8,887.7 C357.9,894.3 361.0,901.1 363.9,907.4 C366.8,913.7 370.7,922.5 372.1,925.6"/>
<path d="M218.7,925.6 C221.9,923.6 231.4,917.8 237.4,913.6 C243.4,909.4 249.2,905.0 254.7,900.2 C260.2,895.4 265.4,890.0 270.5,884.8 C275.6,879.7 280.6,873.9 285.3,869.0 C290.1,864.2 294.5,859.5 298.8,855.6 C303.0,851.8 306.8,848.8 310.7,846.0 C314.7,843.3 320.3,840.4 322.2,839.3"/>
<path d="M247.5,925.6 C249.9,923.7 257.4,918.1 261.9,914.1 C266.3,910.1 270.3,906.1 274.3,901.6 C278.3,897.1 282.0,892.2 285.8,887.2 C289.7,882.3 293.4,876.9 297.3,871.9 C301.2,866.9 305.2,861.8 309.3,857.1 C313.5,852.3 320.1,845.5 322.2,843.2"/>
<path d="M192.9,919.8 C197.1,919.4 210.3,918.5 218.5,917.4 C226.7,916.3 235.0,914.9 242.2,913.1 C249.5,911.4 255.9,908.9 261.9,906.9 C267.9,904.9 272.9,902.7 278.2,901.1 C283.4,899.5 288.5,898.3 293.5,897.3 C298.5,896.3 303.6,895.7 308.3,895.4 C313.1,895.1 317.7,895.1 322.2,895.6 C326.8,896.1 331.3,897.0 335.7,898.3 C340.0,899.5 344.4,901.2 348.1,903.3 C351.9,905.4 355.2,908.1 358.2,910.7 C361.1,913.3 363.5,916.4 365.8,918.9 C368.2,921.3 371.0,924.5 372.1,925.6"/>
<path d="M192.9,924.6 C198.5,924.3 216.4,923.9 226.7,922.9 C237.0,922.0 246.4,920.7 254.7,918.9 C262.9,917.1 269.7,914.3 276.2,912.2 C282.8,910.0 288.5,907.5 294.0,905.9 C299.4,904.3 304.2,902.8 308.8,902.6 C313.5,902.3 317.7,903.4 321.8,904.5 C325.8,905.6 329.8,907.0 333.3,909.0 C336.7,911.0 339.7,913.7 342.4,916.5 C345.0,919.2 348.0,924.1 349.1,925.6"/>
<path d="M262.8,925.6 C265.9,924.4 275.3,920.5 281.0,918.4 C286.8,916.3 292.1,914.5 297.3,913.1 C302.6,911.8 308.3,910.2 312.7,910.2 C317.0,910.2 320.1,911.8 323.2,913.1 C326.3,914.5 328.9,916.3 331.3,918.4 C333.7,920.5 336.5,924.4 337.6,925.6"/>
<path d="M291.6,925.6 C293.7,924.8 300.4,922.1 304.5,920.8 C308.7,919.5 313.3,918.0 316.5,917.9 C319.7,917.8 321.4,918.9 323.7,920.1 C325.9,921.2 328.9,923.9 329.9,924.6"/>
<path d="M374.0,916.0 C377.1,915.9 386.4,916.0 392.9,915.7 C399.3,915.5 405.9,915.1 412.6,914.5 C419.3,913.9 425.7,912.9 432.8,912.3 C440.0,911.7 448.4,911.4 455.5,911.0 C462.7,910.5 470.0,910.4 475.6,909.5 C481.3,908.7 485.4,907.7 489.5,905.9 C493.7,904.1 496.9,902.0 500.6,898.7 C504.2,895.5 507.8,891.0 511.6,886.3 C515.3,881.6 519.3,875.5 523.1,870.7 C526.8,865.9 530.7,860.9 534.1,857.3 C537.4,853.7 540.6,851.3 543.2,849.4 C545.8,847.5 548.8,846.6 549.9,846.0"/>
<path d="M192.9,924.6 C205.3,924.6 242.5,924.7 267.4,924.6 C292.2,924.6 319.5,924.7 342.1,924.4 C364.7,924.0 386.9,923.6 403.0,922.6 C419.1,921.5 428.4,918.7 438.7,918.3 C449.1,917.9 457.3,919.3 465.1,919.9 C472.9,920.5 479.6,921.2 485.7,922.0 C491.9,922.8 499.3,924.2 502.0,924.6"/>
<path d="M502.0,925.6 C503.6,922.6 508.4,913.8 511.6,907.8 C514.8,901.9 518.0,895.5 521.2,889.6 C524.4,883.8 527.6,877.7 530.7,872.9 C533.9,868.0 537.0,863.5 539.8,860.4 C542.7,857.3 545.3,855.2 548.0,854.2 C550.7,853.1 553.3,853.2 556.1,854.2 C559.0,855.1 562.1,857.3 565.2,859.9 C568.4,862.6 571.6,866.4 574.8,870.0 C578.0,873.6 581.2,877.9 584.4,881.5 C587.6,885.1 590.6,888.8 594.0,891.6 C597.3,894.3 600.5,896.3 604.5,897.8 C608.6,899.2 613.2,899.7 618.4,900.2 C623.7,900.7 633.2,900.6 636.1,900.7"/>
<path d="M509.7,925.6 C511.3,922.4 516.0,912.6 519.2,906.4 C522.4,900.2 525.6,893.7 528.8,888.2 C532.0,882.7 535.3,877.3 538.4,873.3 C541.5,869.4 544.6,866.4 547.5,864.2 C550.4,862.1 552.9,860.1 555.7,860.4 C558.4,860.7 560.9,863.6 563.8,866.2 C566.7,868.7 569.7,872.2 572.9,875.7 C576.1,879.3 579.5,883.8 583.0,887.7 C586.5,891.6 590.2,896.0 594.0,899.2 C597.8,902.4 601.7,905.1 606.0,906.9 C610.3,908.6 614.8,909.2 619.9,909.8 C624.9,910.3 633.4,910.2 636.1,910.2"/>
<path d="M525.0,925.6 C526.3,922.6 530.3,913.7 533.1,907.8 C536.0,902.0 539.1,895.9 542.2,890.6 C545.4,885.2 548.9,877.5 551.8,875.7 C554.8,874.0 557.1,877.7 560.0,880.1 C562.8,882.4 566.0,886.0 569.1,889.6 C572.2,893.3 575.5,898.3 578.7,902.1 C581.8,905.9 583.8,909.8 588.2,912.6 C592.6,915.4 597.0,917.4 605.0,919.0 C613.0,920.5 631.0,921.6 636.1,922.1"/>
<path d="M527.9,925.6 C529.9,923.5 536.1,916.3 540.1,913.1 C544.1,909.9 548.0,906.6 551.8,906.4 C555.6,906.2 559.5,909.6 562.8,911.7 C566.2,913.8 569.2,916.6 571.7,918.9 C574.2,921.2 576.7,924.5 577.7,925.6"/>
</g>
<line x1="322.0" y1="663.3" x2="322.0" y2="924.3" stroke="#1a1a1a" stroke-width="3.4"/>
<line x1="450.0" y1="663.3" x2="450.0" y2="924.3" stroke="#1a1a1a" stroke-width="3.4"/>
<rect x="687.3" y="664.3" width="433.5" height="261.0" fill="none" stroke="#5a5a5a" stroke-width="5.8"/>
<line x1="687.0" y1="689.4" x2="702.0" y2="689.4" stroke="#1a1a1a" stroke-width="3"/>
<line x1="1120.5" y1="689.4" x2="1105.5" y2="689.4" stroke="#1a1a1a" stroke-width="3"/>
<line x1="687.0" y1="741.5999999999999" x2="695.0" y2="741.5999999999999" stroke="#1a1a1a" stroke-width="3"/>
<line x1="1120.5" y1="741.5999999999999" x2="1112.5" y2="741.5999999999999" stroke="#1a1a1a" stroke-width="3"/>
<line x1="687.0" y1="793.8" x2="702.0" y2="793.8" stroke="#1a1a1a" stroke-width="3"/>
<line x1="1120.5" y1="793.8" x2="1105.5" y2="793.8" stroke="#1a1a1a" stroke-width="3"/>
<line x1="687.0" y1="846.0" x2="695.0" y2="846.0" stroke="#1a1a1a" stroke-width="3"/>
<line x1="1120.5" y1="846.0" x2="1112.5" y2="846.0" stroke="#1a1a1a" stroke-width="3"/>
<line x1="687.0" y1="898.1999999999999" x2="702.0" y2="898.1999999999999" stroke="#1a1a1a" stroke-width="3"/>
<line x1="1120.5" y1="898.1999999999999" x2="1105.5" y2="898.1999999999999" stroke="#1a1a1a" stroke-width="3"/>
<line x1="707.0" y1="663.3" x2="707.0" y2="667.3" stroke="#1a1a1a" stroke-width="3"/>
<line x1="707.0" y1="924.3" x2="707.0" y2="920.3" stroke="#1a1a1a" stroke-width="3"/>
<line x1="739.0" y1="663.3" x2="739.0" y2="667.3" stroke="#1a1a1a" stroke-width="3"/>
<line x1="739.0" y1="924.3" x2="739.0" y2="920.3" stroke="#1a1a1a" stroke-width="3"/>
<line x1="771.0" y1="663.3" x2="771.0" y2="667.3" stroke="#1a1a1a" stroke-width="3"/>
<line x1="771.0" y1="924.3" x2="771.0" y2="920.3" stroke="#1a1a1a" stroke-width="3"/>
<line x1="803.0" y1="663.3" x2="803.0" y2="667.3" stroke="#1a1a1a" stroke-width="3"/>
<line x1="803.0" y1="924.3" x2="803.0" y2="920.3" stroke="#1a1a1a" stroke-width="3"/>
<line x1="835.0" y1="663.3" x2="835.0" y2="667.3" stroke="#1a1a1a" stroke-width="3"/>
<line x1="835.0" y1="924.3" x2="835.0" y2="920.3" stroke="#1a1a1a" stroke-width="3"/>
<line x1="867.0" y1="663.3" x2="867.0" y2="667.3" stroke="#1a1a1a" stroke-width="3"/>
<line x1="867.0" y1="924.3" x2="867.0" y2="920.3" stroke="#1a1a1a" stroke-width="3"/>
<line x1="899.0" y1="663.3" x2="899.0" y2="667.3" stroke="#1a1a1a" stroke-width="3"/>
<line x1="899.0" y1="924.3" x2="899.0" y2="920.3" stroke="#1a1a1a" stroke-width="3"/>
<line x1="931.0" y1="663.3" x2="931.0" y2="667.3" stroke="#1a1a1a" stroke-width="3"/>
<line x1="931.0" y1="924.3" x2="931.0" y2="920.3" stroke="#1a1a1a" stroke-width="3"/>
<line x1="963.0" y1="663.3" x2="963.0" y2="667.3" stroke="#1a1a1a" stroke-width="3"/>
<line x1="963.0" y1="924.3" x2="963.0" y2="920.3" stroke="#1a1a1a" stroke-width="3"/>
<line x1="995.0" y1="663.3" x2="995.0" y2="667.3" stroke="#1a1a1a" stroke-width="3"/>
<line x1="995.0" y1="924.3" x2="995.0" y2="920.3" stroke="#1a1a1a" stroke-width="3"/>
<line x1="1027.0" y1="663.3" x2="1027.0" y2="667.3" stroke="#1a1a1a" stroke-width="3"/>
<line x1="1027.0" y1="924.3" x2="1027.0" y2="920.3" stroke="#1a1a1a" stroke-width="3"/>
<line x1="1059.0" y1="663.3" x2="1059.0" y2="667.3" stroke="#1a1a1a" stroke-width="3"/>
<line x1="1059.0" y1="924.3" x2="1059.0" y2="920.3" stroke="#1a1a1a" stroke-width="3"/>
<line x1="1091.0" y1="663.3" x2="1091.0" y2="667.3" stroke="#1a1a1a" stroke-width="3"/>
<line x1="1091.0" y1="924.3" x2="1091.0" y2="920.3" stroke="#1a1a1a" stroke-width="3"/>
<g clip-path="url(#cp21)" fill="none" stroke="#0000ff" stroke-width="5.8" stroke-linecap="round" stroke-linejoin="round">
<path d="M684.9,709.7 C687.7,710.0 696.0,710.5 701.9,711.6 C707.8,712.7 714.1,714.1 720.3,716.1 C726.6,718.2 733.3,721.0 739.5,724.0 C745.7,727.1 752.1,731.0 757.7,734.6 C763.3,738.2 768.4,742.3 773.0,745.6 C777.7,748.9 781.5,752.0 785.5,754.5 C789.5,756.9 793.6,760.0 797.0,760.5 C800.4,760.9 803.1,758.2 806.1,757.1 C809.0,756.0 811.7,754.7 814.7,753.7 C817.8,752.7 820.9,752.4 824.3,751.1 C827.7,749.8 831.6,748.7 835.3,746.1 C839.1,743.5 843.1,739.6 846.8,735.5 C850.6,731.5 854.3,726.3 857.8,721.6 C861.4,717.0 864.6,712.3 867.9,707.7 C871.2,703.2 874.3,698.7 877.5,694.3 C880.7,689.9 883.9,685.4 887.1,681.4 C890.2,677.4 893.4,673.7 896.4,670.5 C899.4,667.3 903.8,663.5 905.3,662.1"/>
<path d="M684.9,678.0 C688.2,678.3 698.4,678.8 704.8,679.7 C711.1,680.7 717.4,681.8 723.2,683.8 C729.0,685.8 734.3,688.5 739.5,691.9 C744.7,695.4 749.6,699.9 754.3,704.4 C759.1,708.9 763.8,714.4 768.2,718.8 C772.7,723.2 777.0,727.6 781.2,730.7 C785.3,733.9 789.3,735.7 793.2,737.5 C797.0,739.2 800.7,740.0 804.2,741.3 C807.7,742.5 811.0,743.9 814.2,744.9 C817.5,745.8 820.3,747.8 823.8,747.0 C827.3,746.2 831.6,743.2 835.3,740.1 C839.1,737.0 842.8,732.8 846.3,728.3 C849.9,723.9 853.1,718.5 856.4,713.5 C859.7,708.5 862.8,703.2 866.0,698.2 C869.2,693.1 872.3,687.8 875.6,683.3 C878.8,678.8 882.0,674.5 885.4,670.9 C888.7,667.4 894.0,663.6 895.7,662.1"/>
<path d="M742.9,662.1 C744.4,664.6 748.4,672.1 751.4,677.2 C754.3,682.2 757.4,687.4 760.6,692.4 C763.8,697.4 767.1,702.7 770.6,707.3 C774.2,711.8 777.9,716.3 781.7,719.7 C785.4,723.1 789.4,725.8 793.2,727.6 C796.9,729.5 800.7,730.4 804.2,731.0 C807.7,731.5 810.9,731.6 814.2,731.0 C817.6,730.3 820.9,729.3 824.3,727.2 C827.7,725.0 831.5,721.8 834.8,718.3 C838.2,714.7 841.5,710.2 844.4,705.8 C847.4,701.4 850.0,696.7 852.6,691.9 C855.1,687.2 857.6,682.1 859.9,677.2 C862.2,672.2 865.3,664.6 866.4,662.1"/>
<path d="M765.9,662.1 C767.3,664.2 771.2,670.6 773.9,674.8 C776.6,679.0 779.2,683.0 782.1,687.1 C785.0,691.3 788.1,695.7 791.2,699.6 C794.4,703.5 797.8,707.6 800.8,710.6 C803.9,713.6 806.9,716.0 809.4,717.6 C812.0,719.2 813.7,720.5 816.2,720.2 C818.6,719.9 821.4,717.9 824.3,715.7 C827.2,713.4 830.4,710.3 833.4,706.8 C836.4,703.2 839.7,698.6 842.5,694.3 C845.3,690.1 847.9,685.4 850.2,681.4 C852.5,677.4 854.3,673.7 856.2,670.5 C858.0,667.3 860.4,663.5 861.2,662.1"/>
<path d="M771.7,662.1 C773.1,664.6 777.2,672.0 780.1,676.7 C783.1,681.4 786.2,686.0 789.3,690.5 C792.5,695.0 795.9,699.6 798.9,703.4 C801.9,707.3 804.7,710.9 807.5,713.5 C810.3,716.1 812.6,717.6 815.7,719.0 C818.7,720.4 822.2,723.2 825.7,722.1 C829.3,721.0 833.3,716.1 836.8,712.3 C840.2,708.5 843.4,704.2 846.3,699.6 C849.3,695.0 852.1,689.4 854.5,684.7 C856.9,680.1 859.2,675.2 861.0,671.4 C862.7,667.7 864.3,663.7 865.0,662.1"/>
<path d="M775.9,662.1 C777.3,664.6 781.2,672.2 784.1,677.2 C786.9,682.1 790.0,687.2 793.2,691.9 C796.3,696.7 799.6,701.6 802.7,705.8 C805.9,710.1 809.0,714.1 811.8,717.3 C814.7,720.5 816.8,724.7 820.0,725.0 C823.2,725.3 827.6,722.0 831.0,719.2 C834.4,716.5 837.6,712.9 840.6,708.7 C843.5,704.6 846.1,699.3 848.7,694.3 C851.3,689.3 853.8,684.0 856.2,678.6 C858.6,673.2 862.0,664.9 863.1,662.1"/>
<path d="M786.5,662.1 C787.8,663.4 792.1,667.8 794.8,670.0 C797.6,672.2 800.3,674.6 802.7,675.2 C805.2,675.7 807.4,674.0 809.4,673.5 C811.5,673.0 813.0,672.8 815.2,672.3 C817.4,671.8 819.8,671.5 822.4,670.6 C825.0,669.8 828.1,668.5 830.8,667.1 C833.4,665.7 837.0,663.0 838.2,662.1"/>
<path d="M814.2,751.8 C816.2,751.1 821.9,750.0 825.7,747.5 C829.6,745.0 833.5,741.4 837.2,737.0 C841.0,732.6 844.7,726.7 848.3,721.2 C851.8,715.7 855.1,709.5 858.3,703.9 C861.5,698.3 864.6,692.6 867.4,687.6 C870.3,682.6 872.9,678.1 875.3,673.8 C877.8,669.6 881.1,664.1 882.3,662.1"/>
<path d="M816.2,732.7 C818.6,731.1 826.2,727.1 830.5,723.6 C834.8,720.0 838.7,715.9 842.0,711.6 C845.4,707.3 848.0,702.3 850.7,697.7 C853.3,693.1 855.6,688.1 857.8,683.8 C860.0,679.5 862.0,675.5 863.8,671.9 C865.7,668.3 868.0,663.8 868.9,662.1"/>
<path d="M764.4,663.7 L781.7,663.7"/>
<path d="M968.6,662.2 C970.7,664.4 976.9,671.0 981.0,675.4 C985.0,679.9 988.9,684.4 992.8,688.9 C996.7,693.4 1000.5,698.1 1004.4,702.4 C1008.3,706.8 1012.1,711.3 1016.0,715.0 C1020.0,718.6 1023.9,721.8 1028.1,724.4 C1032.3,727.0 1036.8,729.9 1041.1,730.4 C1045.5,731.0 1049.9,729.2 1054.2,727.8 C1058.5,726.3 1062.5,723.8 1066.8,721.7 C1071.0,719.6 1075.3,716.9 1079.8,715.2 C1084.3,713.5 1089.0,712.3 1093.8,711.3 C1098.7,710.4 1103.7,710.0 1108.8,709.7 C1113.9,709.3 1121.7,709.3 1124.3,709.2"/>
<path d="M999.6,662.2 C1001.6,664.3 1007.9,670.9 1011.9,674.9 C1015.9,679.0 1019.8,683.0 1023.7,686.5 C1027.7,689.9 1031.5,692.9 1035.3,695.4 C1039.2,697.9 1043.2,701.4 1047.0,701.4 C1050.7,701.5 1054.4,698.0 1058.1,695.9 C1061.7,693.8 1065.0,691.1 1068.7,688.9 C1072.4,686.6 1076.1,684.1 1080.3,682.3 C1084.5,680.6 1089.1,679.5 1093.8,678.6 C1098.6,677.8 1103.7,677.5 1108.8,677.2 C1113.9,676.9 1121.7,676.9 1124.3,676.9"/>
<path d="M1003.4,662.2 C1005.5,664.3 1011.7,671.0 1015.8,674.9 C1019.8,678.9 1023.7,682.7 1027.6,686.0 C1031.5,689.3 1035.4,693.7 1039.2,694.7 C1043.0,695.6 1046.9,693.5 1050.3,691.8 C1053.8,690.0 1057.1,687.3 1060.0,684.3 C1062.9,681.2 1065.3,677.2 1067.5,673.5 C1069.7,669.8 1072.1,664.1 1073.1,662.2"/>
<path d="M1011.2,662.2 C1012.9,663.7 1018.1,668.4 1021.6,671.1 C1025.0,673.8 1028.4,676.2 1032.0,678.2 C1035.6,680.2 1039.7,683.1 1043.1,683.1 C1046.5,683.1 1049.4,680.2 1052.3,678.2 C1055.1,676.2 1057.7,673.8 1060.2,671.1 C1062.7,668.4 1066.1,663.7 1067.3,662.2"/>
<path d="M1022.8,662.2 C1024.2,663.3 1028.5,666.9 1031.2,668.9 C1034.0,670.9 1036.6,673.8 1039.2,674.4 C1041.8,674.9 1044.5,673.3 1047.0,672.2 C1049.4,671.1 1051.9,669.4 1054.0,667.7 C1056.1,666.0 1058.6,663.1 1059.5,662.2"/>
<path d="M684.9,862.3 C689.1,861.8 702.1,860.8 710.5,859.5 C718.9,858.1 727.5,856.3 735.2,854.2 C742.9,852.0 750.3,849.2 756.7,846.5 C763.2,843.8 768.7,840.4 774.0,837.9 C779.3,835.3 783.9,832.9 788.4,831.2 C792.8,829.5 796.5,828.0 800.8,827.8 C805.1,827.7 809.8,829.0 814.2,830.2 C818.6,831.4 823.0,832.6 827.2,835.0 C831.3,837.4 835.2,840.8 839.2,844.6 C843.1,848.4 846.8,853.6 850.7,858.0 C854.5,862.4 858.2,867.3 862.2,871.0 C866.1,874.6 870.0,877.8 874.6,880.1 C879.2,882.3 884.5,883.5 889.7,884.6 C894.8,885.7 900.2,886.0 905.6,886.6 C910.9,887.1 916.1,887.6 921.8,887.9 C927.6,888.2 934.3,888.4 940.1,888.3 C946.0,888.2 951.8,887.9 956.8,887.1 C961.8,886.4 965.7,885.1 970.1,883.7 C974.5,882.2 978.8,880.4 983.1,878.3 C987.5,876.3 992.0,874.3 996.2,871.6 C1000.4,868.8 1004.3,865.5 1008.3,861.9 C1012.2,858.4 1016.1,853.7 1019.9,850.3 C1023.7,846.9 1027.5,843.6 1031.0,841.4 C1034.5,839.1 1037.4,836.9 1041.1,836.8 C1044.9,836.7 1049.0,839.1 1053.2,840.9 C1057.4,842.7 1061.9,845.1 1066.3,847.4 C1070.7,849.7 1075.2,852.5 1079.8,854.7 C1084.4,856.8 1089.0,858.8 1093.8,860.2 C1098.7,861.6 1103.8,862.5 1109.1,863.1 C1114.3,863.7 1122.6,863.7 1125.3,863.8"/>
<path d="M684.9,874.8 C689.2,874.9 702.8,876.0 710.7,875.7 C718.7,875.5 726.4,874.9 732.8,873.3 C739.2,871.8 744.2,869.4 749.1,866.4 C753.9,863.4 757.9,858.9 762.0,855.1 C766.2,851.4 770.1,847.2 774.0,844.1 C777.9,841.0 781.7,838.6 785.5,836.7 C789.3,834.8 793.2,833.0 797.0,832.6 C800.8,832.2 804.6,833.3 808.5,834.3 C812.4,835.3 816.4,836.3 820.5,838.4 C824.5,840.4 828.9,843.2 832.9,846.5 C837.0,849.9 841.0,854.3 844.9,858.5 C848.8,862.6 852.5,867.5 856.4,871.4 C860.3,875.3 863.7,879.2 868.4,882.0 C873.0,884.7 877.9,886.6 884.4,888.0 C890.8,889.3 900.9,889.8 907.0,890.1 C913.1,890.4 915.8,890.0 921.1,889.9 C926.4,889.8 932.5,889.7 938.7,889.5 C944.8,889.4 952.3,888.3 958.0,889.0 C963.7,889.7 968.2,892.2 973.0,893.8 C977.8,895.4 983.0,898.5 987.0,898.6 C991.0,898.8 993.6,897.0 997.2,894.5 C1000.7,892.0 1004.5,887.8 1008.3,883.7 C1012.1,879.6 1016.0,873.8 1019.9,869.9 C1023.7,866.0 1027.6,862.5 1031.5,860.2 C1035.3,857.9 1039.2,856.1 1043.1,856.1 C1047.0,856.1 1050.8,858.5 1054.7,860.2 C1058.6,861.9 1062.3,864.3 1066.3,866.3 C1070.3,868.2 1074.3,870.4 1078.9,871.8 C1083.4,873.2 1088.3,874.1 1093.4,874.7 C1098.4,875.3 1103.7,875.3 1109.1,875.4 C1114.4,875.6 1122.6,875.4 1125.3,875.4"/>
<path d="M701.2,925.2 C703.7,922.9 711.5,916.3 716.5,911.6 C721.5,906.9 726.6,901.9 731.4,896.8 C736.1,891.7 740.8,886.3 745.2,881.0 C749.7,875.7 754.0,870.1 758.2,865.2 C762.3,860.3 766.2,855.6 770.2,851.8 C774.1,848.0 777.8,844.8 781.7,842.2 C785.5,839.6 789.3,837.9 793.2,836.5 C797.0,835.0 802.7,834.1 804.7,833.6"/>
<path d="M712.7,925.2 C715.0,922.9 721.8,916.2 726.6,911.6 C731.3,906.9 736.2,902.1 740.9,897.3 C745.6,892.5 750.3,887.7 754.8,882.9 C759.4,878.1 763.9,873.1 768.2,868.6 C772.6,864.0 777.0,859.4 781.2,855.6 C785.3,851.9 789.2,848.5 793.2,846.0 C797.1,843.6 800.8,841.6 804.7,840.8 C808.5,840.0 812.3,839.9 816.2,841.2 C820.0,842.6 823.8,845.2 827.7,848.9 C831.5,852.6 835.4,857.9 839.2,863.3 C842.9,868.6 846.7,875.2 850.2,881.0 C853.7,886.8 857.1,892.9 860.2,898.3 C863.4,903.6 866.3,908.5 869.0,913.0 C871.6,917.5 874.8,923.2 876.0,925.2"/>
<path d="M684.9,904.5 C689.2,904.7 703.6,906.2 710.7,905.5 C717.9,904.7 722.1,902.0 727.5,899.9 C732.9,897.9 738.2,895.5 743.3,893.0 C748.4,890.5 753.4,887.9 758.2,884.8 C763.0,881.8 767.6,878.5 772.1,874.8 C776.5,871.1 780.9,866.6 785.0,862.8 C789.1,859.1 792.9,855.0 796.5,852.3 C800.1,849.6 803.1,847.2 806.6,846.5 C810.0,845.8 813.4,846.0 817.1,848.0 C820.9,849.9 825.2,853.7 829.1,858.0 C833.0,862.3 837.0,868.3 840.6,873.8 C844.2,879.3 847.5,885.3 850.7,891.1 C853.8,896.8 856.8,902.5 859.4,908.2 C862.0,913.9 865.2,922.4 866.4,925.2"/>
<path d="M739.5,925.2 C741.9,922.5 749.4,914.2 753.9,909.2 C758.3,904.1 762.3,899.6 766.3,894.9 C770.3,890.2 774.0,885.7 777.8,881.0 C781.7,876.3 785.7,871.0 789.3,866.6 C793.0,862.2 796.8,857.8 799.9,854.7 C803.0,851.5 805.6,849.6 808.0,848.0 C810.4,846.4 813.2,845.6 814.2,845.1"/>
<path d="M684.9,917.9 C688.9,917.5 701.6,916.6 709.1,915.5 C716.6,914.5 723.2,913.2 729.9,911.7 C736.6,910.2 742.7,908.2 749.1,906.6 C755.5,905.1 761.9,903.4 768.2,902.3 C774.6,901.3 781.1,900.6 786.9,900.2 C792.8,899.8 798.3,899.7 803.2,899.9 C808.1,900.1 812.0,900.5 816.2,901.4 C820.3,902.3 824.0,903.7 828.1,905.5 C832.3,907.2 836.8,909.9 841.1,912.2 C845.3,914.5 849.7,917.1 853.5,919.2 C857.4,921.4 862.3,924.2 864.1,925.2"/>
<path d="M684.9,923.7 C690.5,923.3 708.4,922.5 718.7,921.3 C729.0,920.0 738.4,917.9 746.7,916.2 C754.9,914.5 761.5,912.4 768.2,911.0 C775.0,909.6 780.9,908.6 786.9,907.8 C793.0,907.1 799.8,906.2 804.7,906.4 C809.5,906.6 812.5,907.9 816.2,909.3 C819.8,910.6 823.6,912.7 826.7,914.6 C829.8,916.5 832.4,918.9 834.8,920.7 C837.2,922.5 840.0,924.4 841.1,925.2"/>
<path d="M739.5,925.2 C743.2,924.1 754.5,920.4 761.5,918.5 C768.6,916.6 775.1,915.1 781.7,913.8 C788.2,912.6 795.3,911.2 800.8,911.2 C806.3,911.2 810.7,912.6 814.7,913.8 C818.7,915.1 822.0,916.6 824.8,918.5 C827.6,920.4 830.4,924.1 831.5,925.2"/>
<path d="M768.2,925.2 C771.0,924.4 779.6,921.7 785.0,920.2 C790.4,918.7 796.0,916.4 800.8,916.0 C805.7,915.6 810.6,917.0 814.2,917.9 C817.9,918.8 820.6,920.2 822.9,921.4 C825.1,922.6 826.9,924.6 827.7,925.2"/>
<path d="M777.8,925.2 C780.9,924.7 790.4,923.1 796.5,922.4 C802.6,921.6 810.0,920.3 814.2,920.8 C818.5,921.3 820.6,924.5 821.9,925.2"/>
<path d="M684.9,925.2 C694.9,925.2 723.9,925.3 745.0,925.2 C766.1,925.1 790.9,925.0 811.4,924.8 C831.8,924.6 852.6,924.1 867.6,924.0 C882.7,923.9 892.0,924.0 901.7,924.2 C911.5,924.4 916.5,924.9 925.9,925.2 C935.3,925.5 952.7,925.6 958.0,925.7"/>
<path d="M984.1,926.3 C986.2,924.0 992.4,917.4 996.4,912.6 C1000.5,907.7 1004.4,902.4 1008.3,897.2 C1012.2,892.0 1016.1,885.9 1019.9,881.2 C1023.7,876.6 1027.5,872.2 1031.0,869.2 C1034.5,866.1 1037.8,863.0 1041.1,862.9 C1044.5,862.8 1047.6,866.1 1050.8,868.7 C1054.0,871.3 1057.2,875.0 1060.5,878.3 C1063.8,881.7 1067.1,886.0 1070.6,889.0 C1074.2,892.0 1077.1,894.7 1081.8,896.5 C1086.4,898.3 1091.2,899.2 1098.4,899.9 C1105.7,900.5 1120.8,900.5 1125.3,900.6"/>
<path d="M997.6,926.3 C999.7,923.7 1005.9,916.0 1010.0,910.6 C1014.0,905.3 1018.0,899.4 1021.8,894.3 C1025.6,889.2 1029.4,884.2 1032.9,880.3 C1036.5,876.3 1039.8,871.3 1043.1,870.6 C1046.4,870.0 1049.5,873.8 1052.8,876.4 C1056.0,879.1 1059.1,882.9 1062.4,886.6 C1065.7,890.3 1069.0,895.1 1072.6,898.6 C1076.1,902.2 1079.1,905.5 1083.7,907.8 C1088.2,910.2 1093.0,911.5 1099.9,912.7 C1106.8,913.9 1121.0,914.7 1125.3,915.1"/>
<path d="M1007.3,926.3 C1009.0,924.0 1014.3,917.3 1017.7,912.6 C1021.1,907.8 1024.4,902.4 1027.6,897.7 C1030.8,892.9 1033.9,888.0 1036.8,884.1 C1039.7,880.3 1042.0,874.6 1045.0,874.5 C1048.0,874.4 1051.5,880.1 1054.7,883.7 C1057.9,887.2 1061.0,891.6 1064.4,895.7 C1067.7,899.9 1070.8,904.7 1074.5,908.3 C1078.2,911.9 1081.8,915.2 1086.6,917.5 C1091.4,919.8 1096.8,921.0 1103.3,922.1 C1109.7,923.1 1121.6,923.5 1125.3,923.8"/>
<path d="M1018.9,926.3 C1021.0,924.1 1027.2,916.9 1031.2,913.0 C1035.3,909.2 1039.3,904.3 1043.1,903.5 C1046.9,902.7 1050.8,906.1 1054.2,908.3 C1057.6,910.5 1060.8,913.7 1063.6,916.7 C1066.4,919.7 1069.9,924.7 1071.1,926.3"/>
<path d="M1026.6,926.3 C1028.7,925.1 1034.9,920.7 1039.0,918.9 C1043.0,917.0 1047.4,914.8 1050.8,915.1 C1054.2,915.4 1056.9,918.9 1059.3,920.8 C1061.7,922.7 1064.3,925.4 1065.3,926.3"/>
</g>
<line x1="814.0" y1="663.3" x2="814.0" y2="924.3" stroke="#1a1a1a" stroke-width="3.4"/>
<line x1="942.0" y1="663.3" x2="942.0" y2="924.3" stroke="#1a1a1a" stroke-width="3.4"/>
<text transform="translate(177.5,78.29999999999998) scale(0.875,1)" font-family='"Liberation Sans", sans-serif' font-size="53" text-anchor="end" fill="#1a1a1a" stroke="#1a1a1a" stroke-width="0.5" >2.0</text>
<text transform="translate(177.5,182.7) scale(0.875,1)" font-family='"Liberation Sans", sans-serif' font-size="53" text-anchor="end" fill="#1a1a1a" stroke="#1a1a1a" stroke-width="0.5" >0.0</text>
<text transform="translate(177.5,287.1) scale(0.875,1)" font-family='"Liberation Sans", sans-serif' font-size="53" text-anchor="end" fill="#1a1a1a" stroke="#1a1a1a" stroke-width="0.5" >-2.0</text>
<text transform="translate(177.5,391.6) scale(0.875,1)" font-family='"Liberation Sans", sans-serif' font-size="53" text-anchor="end" fill="#1a1a1a" stroke="#1a1a1a" stroke-width="0.5" >2.0</text>
<text transform="translate(177.5,496.0) scale(0.875,1)" font-family='"Liberation Sans", sans-serif' font-size="53" text-anchor="end" fill="#1a1a1a" stroke="#1a1a1a" stroke-width="0.5" >0.0</text>
<text transform="translate(177.5,600.4) scale(0.875,1)" font-family='"Liberation Sans", sans-serif' font-size="53" text-anchor="end" fill="#1a1a1a" stroke="#1a1a1a" stroke-width="0.5" >-2.0</text>
<text transform="translate(177.5,704.4) scale(0.875,1)" font-family='"Liberation Sans", sans-serif' font-size="53" text-anchor="end" fill="#1a1a1a" stroke="#1a1a1a" stroke-width="0.5" >2.0</text>
<text transform="translate(177.5,808.8) scale(0.875,1)" font-family='"Liberation Sans", sans-serif' font-size="53" text-anchor="end" fill="#1a1a1a" stroke="#1a1a1a" stroke-width="0.5" >0.0</text>
<text transform="translate(177.5,913.1999999999999) scale(0.875,1)" font-family='"Liberation Sans", sans-serif' font-size="53" text-anchor="end" fill="#1a1a1a" stroke="#1a1a1a" stroke-width="0.5" >-2.0</text>
<path d="M0.405,0 L0.315,0 L0.315,0.56 Q0.26,0.51 0.19,0.475 Q0.15,0.455 0.105,0.44 L0.105,0.527 Q0.2,0.567 0.255,0.622 Q0.3,0.667 0.327,0.716 L0.405,0.716 Z" transform="translate(486.81,179) scale(40.710,-46.000)" fill="#1a1a1a" stroke="#1a1a1a" stroke-width="0.5" vector-effect="non-scaling-stroke"/><text transform="translate(609,179) scale(0.885,1)" font-family='"Liberation Sans", sans-serif' font-size="46" text-anchor="end" fill="#1a1a1a" stroke="#1a1a1a" stroke-width="0.5" >  layer</text>
<text transform="translate(1101,166) scale(0.885,1)" font-family='"Liberation Sans", sans-serif' font-size="46" text-anchor="end" fill="#1a1a1a" stroke="#1a1a1a" stroke-width="0.5" >2 layer</text>
<text transform="translate(607,478.5) scale(0.885,1)" font-family='"Liberation Sans", sans-serif' font-size="46" text-anchor="end" fill="#1a1a1a" stroke="#1a1a1a" stroke-width="0.5" >3 layer</text>
<text transform="translate(1100,478.5) scale(0.885,1)" font-family='"Liberation Sans", sans-serif' font-size="46" text-anchor="end" fill="#1a1a1a" stroke="#1a1a1a" stroke-width="0.5" >4 layer</text>
<text transform="translate(610,793.5) scale(0.885,1)" font-family='"Liberation Sans", sans-serif' font-size="46" text-anchor="end" fill="#1a1a1a" stroke="#1a1a1a" stroke-width="0.5" >5 layer</text>
<text transform="translate(1101,793.5) scale(0.885,1)" font-family='"Liberation Sans", sans-serif' font-size="46" text-anchor="end" fill="#1a1a1a" stroke="#1a1a1a" stroke-width="0.5" >6 layer</text>
<text transform="translate(33,72.8) scale(0.95,1)" font-family='"Liberation Sans", sans-serif' font-size="54.5" text-anchor="start" fill="#1a1a1a" stroke="#1a1a1a" stroke-width="0.5" >(a)</text>
<text transform="translate(68,483) scale(0.93,1) rotate(-90)" font-family='"Liberation Sans", sans-serif' font-size="48.5" text-anchor="middle" fill="#1a1a1a" stroke="#1a1a1a" stroke-width="0.5">E(eV)</text>
<text transform="translate(203.2,988.5) scale(1.0,1)" font-family='"Liberation Serif", serif' font-size="52" text-anchor="middle" fill="#1a1a1a" stroke="#1a1a1a" stroke-width="0.8" >Γ</text>
<text transform="translate(324,986.5) scale(0.86,1)" font-family='"Liberation Serif", serif' font-size="52" text-anchor="middle" fill="#1a1a1a" stroke="#1a1a1a" stroke-width="0.8" >X</text>
<text transform="translate(455,986.5) scale(0.9,1)" font-family='"Liberation Serif", serif' font-size="52" text-anchor="middle" fill="#1a1a1a" stroke="#1a1a1a" stroke-width="0.8" >M</text>
<text transform="translate(620.1,986.5) scale(1.0,1)" font-family='"Liberation Serif", serif' font-size="52" text-anchor="middle" fill="#1a1a1a" stroke="#1a1a1a" stroke-width="0.8" >Γ</text>
<text transform="translate(699.3000000000001,989) scale(1.0,1)" font-family='"Liberation Serif", serif' font-size="52" text-anchor="middle" fill="#1a1a1a" stroke="#1a1a1a" stroke-width="0.8" >Γ</text>
<text transform="translate(818,986.5) scale(0.86,1)" font-family='"Liberation Serif", serif' font-size="52" text-anchor="middle" fill="#1a1a1a" stroke="#1a1a1a" stroke-width="0.8" >X</text>
<text transform="translate(951.5,986.5) scale(0.9,1)" font-family='"Liberation Serif", serif' font-size="52" text-anchor="middle" fill="#1a1a1a" stroke="#1a1a1a" stroke-width="0.8" >M</text>
<text transform="translate(1116.6,986.5) scale(1.0,1)" font-family='"Liberation Serif", serif' font-size="52" text-anchor="middle" fill="#1a1a1a" stroke="#1a1a1a" stroke-width="0.8" >Γ</text>
<line x1="193.0" y1="1447.0" x2="210.0" y2="1447.0" stroke="#1a1a1a" stroke-width="3"/>
<line x1="1116.0" y1="1447.0" x2="1099.0" y2="1447.0" stroke="#1a1a1a" stroke-width="3"/>
<line x1="193.0" y1="1405.425" x2="202.0" y2="1405.425" stroke="#1a1a1a" stroke-width="3"/>
<line x1="1116.0" y1="1405.425" x2="1107.0" y2="1405.425" stroke="#1a1a1a" stroke-width="3"/>
<line x1="193.0" y1="1363.85" x2="210.0" y2="1363.85" stroke="#1a1a1a" stroke-width="3"/>
<line x1="1116.0" y1="1363.85" x2="1099.0" y2="1363.85" stroke="#1a1a1a" stroke-width="3"/>
<line x1="193.0" y1="1322.275" x2="202.0" y2="1322.275" stroke="#1a1a1a" stroke-width="3"/>
<line x1="1116.0" y1="1322.275" x2="1107.0" y2="1322.275" stroke="#1a1a1a" stroke-width="3"/>
<line x1="193.0" y1="1280.7" x2="210.0" y2="1280.7" stroke="#1a1a1a" stroke-width="3"/>
<line x1="1116.0" y1="1280.7" x2="1099.0" y2="1280.7" stroke="#1a1a1a" stroke-width="3"/>
<line x1="193.0" y1="1239.125" x2="202.0" y2="1239.125" stroke="#1a1a1a" stroke-width="3"/>
<line x1="1116.0" y1="1239.125" x2="1107.0" y2="1239.125" stroke="#1a1a1a" stroke-width="3"/>
<line x1="193.0" y1="1197.55" x2="210.0" y2="1197.55" stroke="#1a1a1a" stroke-width="3"/>
<line x1="1116.0" y1="1197.55" x2="1099.0" y2="1197.55" stroke="#1a1a1a" stroke-width="3"/>
<line x1="193.0" y1="1155.975" x2="202.0" y2="1155.975" stroke="#1a1a1a" stroke-width="3"/>
<line x1="1116.0" y1="1155.975" x2="1107.0" y2="1155.975" stroke="#1a1a1a" stroke-width="3"/>
<line x1="193.0" y1="1114.4" x2="210.0" y2="1114.4" stroke="#1a1a1a" stroke-width="3"/>
<line x1="1116.0" y1="1114.4" x2="1099.0" y2="1114.4" stroke="#1a1a1a" stroke-width="3"/>
<line x1="193.0" y1="1072.825" x2="202.0" y2="1072.825" stroke="#1a1a1a" stroke-width="3"/>
<line x1="1116.0" y1="1072.825" x2="1107.0" y2="1072.825" stroke="#1a1a1a" stroke-width="3"/>
<line x1="238.5" y1="1447.0" x2="238.5" y2="1430.0" stroke="#1a1a1a" stroke-width="3"/>
<line x1="284.65" y1="1447.0" x2="284.65" y2="1438.0" stroke="#1a1a1a" stroke-width="3"/>
<line x1="330.8" y1="1447.0" x2="330.8" y2="1430.0" stroke="#1a1a1a" stroke-width="3"/>
<line x1="376.95" y1="1447.0" x2="376.95" y2="1438.0" stroke="#1a1a1a" stroke-width="3"/>
<line x1="423.1" y1="1447.0" x2="423.1" y2="1430.0" stroke="#1a1a1a" stroke-width="3"/>
<line x1="469.25" y1="1447.0" x2="469.25" y2="1438.0" stroke="#1a1a1a" stroke-width="3"/>
<line x1="515.4" y1="1447.0" x2="515.4" y2="1430.0" stroke="#1a1a1a" stroke-width="3"/>
<line x1="561.55" y1="1447.0" x2="561.55" y2="1438.0" stroke="#1a1a1a" stroke-width="3"/>
<line x1="607.7" y1="1447.0" x2="607.7" y2="1430.0" stroke="#1a1a1a" stroke-width="3"/>
<line x1="653.8499999999999" y1="1447.0" x2="653.8499999999999" y2="1438.0" stroke="#1a1a1a" stroke-width="3"/>
<line x1="700.0" y1="1447.0" x2="700.0" y2="1430.0" stroke="#1a1a1a" stroke-width="3"/>
<line x1="746.15" y1="1447.0" x2="746.15" y2="1438.0" stroke="#1a1a1a" stroke-width="3"/>
<line x1="792.3" y1="1447.0" x2="792.3" y2="1430.0" stroke="#1a1a1a" stroke-width="3"/>
<line x1="838.4499999999999" y1="1447.0" x2="838.4499999999999" y2="1438.0" stroke="#1a1a1a" stroke-width="3"/>
<line x1="884.6" y1="1447.0" x2="884.6" y2="1430.0" stroke="#1a1a1a" stroke-width="3"/>
<line x1="930.75" y1="1447.0" x2="930.75" y2="1438.0" stroke="#1a1a1a" stroke-width="3"/>
<line x1="976.9" y1="1447.0" x2="976.9" y2="1430.0" stroke="#1a1a1a" stroke-width="3"/>
<line x1="1023.05" y1="1447.0" x2="1023.05" y2="1438.0" stroke="#1a1a1a" stroke-width="3"/>
<line x1="1069.1999999999998" y1="1447.0" x2="1069.1999999999998" y2="1430.0" stroke="#1a1a1a" stroke-width="3"/>
<rect x="193.0" y="1049.3" width="923.0" height="397.70000000000005" fill="none" stroke="#5a5a5a" stroke-width="5.8"/>
<text transform="translate(173,1463.0) scale(0.912,1)" font-family='"Liberation Sans", sans-serif' font-size="54" text-anchor="end" fill="#1a1a1a" stroke="#1a1a1a" stroke-width="0.5" >0.0</text>
<text transform="translate(173,1379.85) scale(0.912,1)" font-family='"Liberation Sans", sans-serif' font-size="54" text-anchor="end" fill="#1a1a1a" stroke="#1a1a1a" stroke-width="0.5" >0.5</text>
<path d="M0.405,0 L0.315,0 L0.315,0.56 Q0.26,0.51 0.19,0.475 Q0.15,0.455 0.105,0.44 L0.105,0.527 Q0.2,0.567 0.255,0.622 Q0.3,0.667 0.327,0.716 L0.405,0.716 Z" transform="translate(104.54,1296.7) scale(49.248,-54.000)" fill="#1a1a1a" stroke="#1a1a1a" stroke-width="0.5" vector-effect="non-scaling-stroke"/><text transform="translate(173,1296.7) scale(0.912,1)" font-family='"Liberation Sans", sans-serif' font-size="54" text-anchor="end" fill="#1a1a1a" stroke="#1a1a1a" stroke-width="0.5" > .0</text>
<path d="M0.405,0 L0.315,0 L0.315,0.56 Q0.26,0.51 0.19,0.475 Q0.15,0.455 0.105,0.44 L0.105,0.527 Q0.2,0.567 0.255,0.622 Q0.3,0.667 0.327,0.716 L0.405,0.716 Z" transform="translate(104.54,1213.55) scale(49.248,-54.000)" fill="#1a1a1a" stroke="#1a1a1a" stroke-width="0.5" vector-effect="non-scaling-stroke"/><text transform="translate(173,1213.55) scale(0.912,1)" font-family='"Liberation Sans", sans-serif' font-size="54" text-anchor="end" fill="#1a1a1a" stroke="#1a1a1a" stroke-width="0.5" > .5</text>
<text transform="translate(173,1130.4) scale(0.912,1)" font-family='"Liberation Sans", sans-serif' font-size="54" text-anchor="end" fill="#1a1a1a" stroke="#1a1a1a" stroke-width="0.5" >2.0</text>
<path d="M0.405,0 L0.315,0 L0.315,0.56 Q0.26,0.51 0.19,0.475 Q0.15,0.455 0.105,0.44 L0.105,0.527 Q0.2,0.567 0.255,0.622 Q0.3,0.667 0.327,0.716 L0.405,0.716 Z" transform="translate(224.61,1509.5) scale(49.950,-55.500)" fill="#1a1a1a" stroke="#1a1a1a" stroke-width="0.5" vector-effect="non-scaling-stroke"/><text transform="translate(238.5,1509.5) scale(0.9,1)" font-family='"Liberation Sans", sans-serif' font-size="55.5" text-anchor="middle" fill="#1a1a1a" stroke="#1a1a1a" stroke-width="0.5" > </text>
<text transform="translate(330.8,1509.5) scale(0.9,1)" font-family='"Liberation Sans", sans-serif' font-size="55.5" text-anchor="middle" fill="#1a1a1a" stroke="#1a1a1a" stroke-width="0.5" >2</text>
<text transform="translate(423.1,1509.5) scale(0.9,1)" font-family='"Liberation Sans", sans-serif' font-size="55.5" text-anchor="middle" fill="#1a1a1a" stroke="#1a1a1a" stroke-width="0.5" >3</text>
<text transform="translate(515.4,1509.5) scale(0.9,1)" font-family='"Liberation Sans", sans-serif' font-size="55.5" text-anchor="middle" fill="#1a1a1a" stroke="#1a1a1a" stroke-width="0.5" >4</text>
<text transform="translate(607.7,1509.5) scale(0.9,1)" font-family='"Liberation Sans", sans-serif' font-size="55.5" text-anchor="middle" fill="#1a1a1a" stroke="#1a1a1a" stroke-width="0.5" >5</text>
<text transform="translate(700.0,1509.5) scale(0.9,1)" font-family='"Liberation Sans", sans-serif' font-size="55.5" text-anchor="middle" fill="#1a1a1a" stroke="#1a1a1a" stroke-width="0.5" >6</text>
<text transform="translate(792.3,1509.5) scale(0.9,1)" font-family='"Liberation Sans", sans-serif' font-size="55.5" text-anchor="middle" fill="#1a1a1a" stroke="#1a1a1a" stroke-width="0.5" >7</text>
<text transform="translate(884.6,1509.5) scale(0.9,1)" font-family='"Liberation Sans", sans-serif' font-size="55.5" text-anchor="middle" fill="#1a1a1a" stroke="#1a1a1a" stroke-width="0.5" >8</text>
<text transform="translate(976.9,1509.5) scale(0.9,1)" font-family='"Liberation Sans", sans-serif' font-size="55.5" text-anchor="middle" fill="#1a1a1a" stroke="#1a1a1a" stroke-width="0.5" >9</text>
<path d="M0.405,0 L0.315,0 L0.315,0.56 Q0.26,0.51 0.19,0.475 Q0.15,0.455 0.105,0.44 L0.105,0.527 Q0.2,0.567 0.255,0.622 Q0.3,0.667 0.327,0.716 L0.405,0.716 Z" transform="translate(1041.42,1509.5) scale(49.950,-55.500)" fill="#1a1a1a" stroke="#1a1a1a" stroke-width="0.5" vector-effect="non-scaling-stroke"/><text transform="translate(1069.1999999999998,1509.5) scale(0.9,1)" font-family='"Liberation Sans", sans-serif' font-size="55.5" text-anchor="middle" fill="#1a1a1a" stroke="#1a1a1a" stroke-width="0.5" > 0</text>
<text transform="translate(654,1562.5) scale(0.95,1)" font-family='"Liberation Sans", sans-serif' font-size="57" text-anchor="middle" fill="#1a1a1a" stroke="#1a1a1a" stroke-width="0.5" >N</text>
<text transform="translate(34.5,1084.3) scale(0.95,1)" font-family='"Liberation Sans", sans-serif' font-size="54.5" text-anchor="start" fill="#1a1a1a" stroke="#1a1a1a" stroke-width="0.5" >(b)</text>
<text transform="translate(69,1338) scale(0.92,1) rotate(-90)" font-family='"Liberation Sans", sans-serif' font-size="48" fill="#1a1a1a" stroke="#1a1a1a" stroke-width="0.5">E<tspan font-size="32" dy="17.5" dx="-1.5">g</tspan><tspan dy="-17.5" dx="-2.5" font-size="48">(eV)</tspan></text>
<polyline points="700.0,1282.6 704.6,1283.3 709.2,1284.1 713.8,1284.8 718.5,1285.6 723.1,1286.3 727.7,1287.0 732.3,1287.7 736.9,1288.4 741.5,1289.0 746.1,1289.7 750.8,1290.4 755.4,1291.0 760.0,1291.6 764.6,1292.3 769.2,1292.9 773.8,1293.5 778.5,1294.1 783.1,1294.7 787.7,1295.2 792.3,1295.8 796.9,1296.4 801.5,1296.9 806.1,1297.5 810.8,1298.0 815.4,1298.5 820.0,1299.1 824.6,1299.6 829.2,1300.1 833.8,1300.6 838.4,1301.1 843.1,1301.6 847.7,1302.1 852.3,1302.6 856.9,1303.0 861.5,1303.5 866.1,1303.9 870.8,1304.4 875.4,1304.8 880.0,1305.3 884.6,1305.7 889.2,1306.2 893.8,1306.6 898.4,1307.0 903.1,1307.4 907.7,1307.8 912.3,1308.2 916.9,1308.6 921.5,1309.0 926.1,1309.4 930.8,1309.8 935.4,1310.2 940.0,1310.6 944.6,1310.9 949.2,1311.3 953.8,1311.7 958.4,1312.0 963.1,1312.4 967.7,1312.7 972.3,1313.1 976.9,1313.4 981.5,1313.8 986.1,1314.1 990.7,1314.5 995.4,1314.8 1000.0,1315.1 1004.6,1315.4 1009.2,1315.8 1013.8,1316.1 1018.4,1316.4 1023.0,1316.7 1027.7,1317.0 1032.3,1317.3 1036.9,1317.6 1041.5,1317.9 1046.1,1318.2 1050.7,1318.5 1055.4,1318.8 1060.0,1319.1 1064.6,1319.3 1069.2,1319.6 1073.8,1319.9 1078.4,1320.2 1083.0,1320.4 1087.7,1320.7 1092.3,1321.0 1096.9,1321.2 1101.5,1321.5 1106.1,1321.8 1110.7,1322.0" fill="none" stroke="#ff2a2a" stroke-width="4" stroke-dasharray="21.5 14"/>
<polyline points="238.5,1398.8 330.8,1123.5 423.1,1295.7 515.4,1192.6 607.7,1306.0 700.0,1228.6 792.3,1323.1" fill="none" stroke="#0000ff" stroke-width="5" stroke-linejoin="round"/>
<polyline points="238.5,1426.5 330.8,1228.6 423.1,1372.8 515.4,1280.9 607.7,1388.3 700.0,1316.8 792.3,1402.1 884.6,1343.9 976.9,1407.1 1069.2,1363.0" fill="none" stroke="#00ff00" stroke-width="6" stroke-linejoin="round"/>
<polygon points="225.2,1411.1 251.8,1411.1 238.5,1386.5" fill="#0000ff"/>
<polygon points="317.6,1135.9 344.1,1135.9 330.8,1111.2" fill="#0000ff"/>
<polygon points="409.9,1308.0 436.4,1308.0 423.1,1283.3" fill="#0000ff"/>
<polygon points="502.1,1204.9 528.6,1204.9 515.4,1180.2" fill="#0000ff"/>
<polygon points="594.5,1318.3 621.0,1318.3 607.7,1293.7" fill="#0000ff"/>
<polygon points="686.8,1241.0 713.2,1241.0 700.0,1216.3" fill="#0000ff"/>
<polygon points="779.0,1335.4 805.5,1335.4 792.3,1310.8" fill="#0000ff"/>
<circle cx="238.5" cy="1426.5" r="12" fill="#00ff00"/>
<circle cx="330.8" cy="1228.6" r="12" fill="#00ff00"/>
<circle cx="423.1" cy="1372.8" r="12" fill="#00ff00"/>
<circle cx="515.4" cy="1280.9" r="12" fill="#00ff00"/>
<circle cx="607.7" cy="1388.3" r="12" fill="#00ff00"/>
<circle cx="700.0" cy="1316.8" r="12" fill="#00ff00"/>
<circle cx="792.3" cy="1402.1" r="12" fill="#00ff00"/>
<circle cx="884.6" cy="1343.9" r="12" fill="#00ff00"/>
<circle cx="976.9" cy="1407.1" r="12" fill="#00ff00"/>
<circle cx="1069.2" cy="1363.0" r="12" fill="#00ff00"/>
<rect x="781.8" y="1285.5" width="21" height="22" fill="#ff0000"/>
<rect x="874.1" y="1295.8" width="21" height="22" fill="#ff0000"/>
<rect x="1058.7" y="1307.3" width="21" height="22" fill="#ff0000"/>
<rect x="807.6" y="1055.2" width="296.80000000000007" height="194.5999999999999" fill="#fff" stroke="#1a1a1a" stroke-width="3.8"/>
<line x1="822" y1="1084.5" x2="905" y2="1084.5" stroke="#0000ff" stroke-width="4"/>
<polygon points="851.0,1093.6 877.0,1093.6 864.0,1069.4" fill="#0000ff"/>
<line x1="822" y1="1131" x2="905" y2="1131" stroke="#00ff00" stroke-width="5.5"/>
<circle cx="864" cy="1131" r="12.5" fill="#00ff00"/>
<rect x="854" y="1166.5" width="20" height="22" fill="#ff0000"/>
<line x1="822" y1="1224" x2="905" y2="1224" stroke="#ff2020" stroke-width="4.5" stroke-dasharray="18 19"/>
<text transform="translate(914.2,1098.5) scale(0.875,1)" font-family='"Liberation Serif", serif' font-size="42" text-anchor="start" fill="#1a1a1a" stroke="#1a1a1a" stroke-width="0.8" >HSE+SOC</text>
<text transform="translate(914.2,1144) scale(0.875,1)" font-family='"Liberation Serif", serif' font-size="42" text-anchor="start" fill="#1a1a1a" stroke="#1a1a1a" stroke-width="0.8" >PBE+SOC</text>
<text transform="translate(914.2,1190) scale(0.85,1)" font-family='"Liberation Serif", serif' font-size="42" text-anchor="start" fill="#1a1a1a" stroke="#1a1a1a" stroke-width="0.8" >Experiment</text>
<text transform="translate(914.2,1237) scale(0.86,1)" font-family='"Liberation Serif", serif' font-size="42" text-anchor="start" fill="#1a1a1a" stroke="#1a1a1a" stroke-width="0.8" >Fitting</text>
</g>
</svg>
</body></html>
